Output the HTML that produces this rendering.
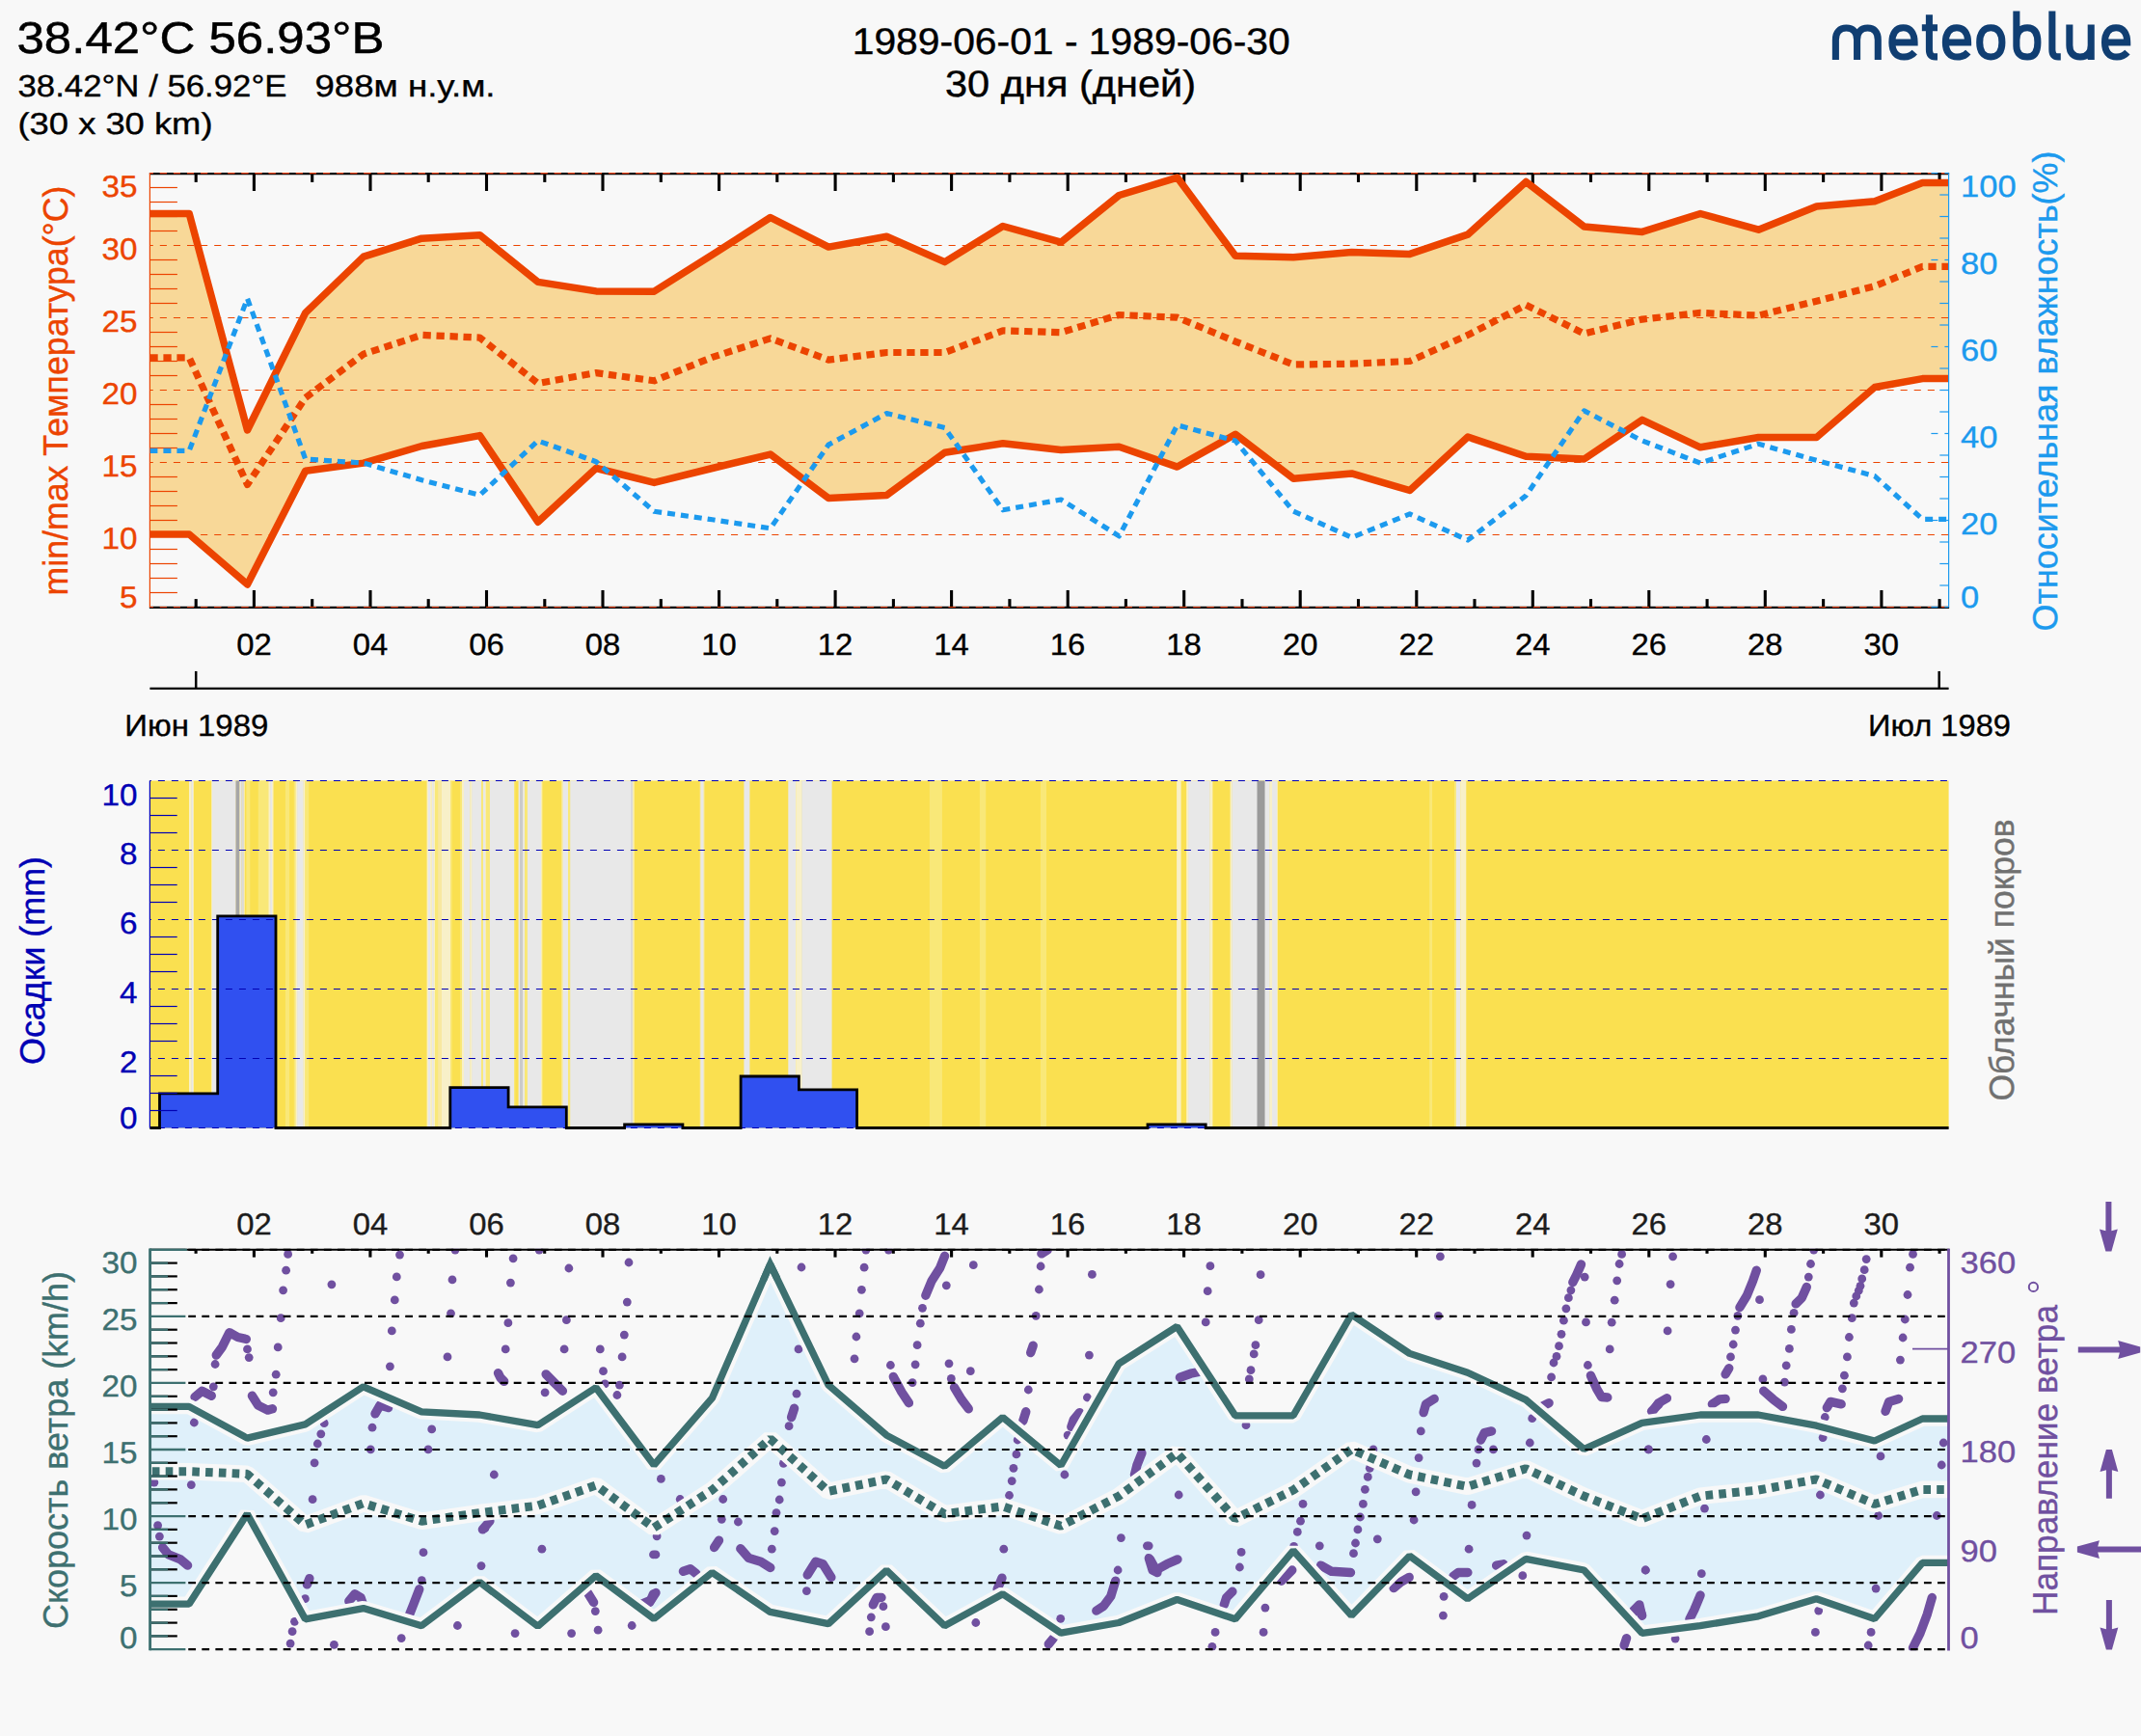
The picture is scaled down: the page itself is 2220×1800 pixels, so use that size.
<!DOCTYPE html>
<html><head><meta charset="utf-8"><title>meteoblue</title>
<style>html,body{margin:0;padding:0;background:#F8F8F8}svg{display:block}</style></head>
<body>
<svg width="2220" height="1800" viewBox="0 0 2220 1800" font-family="Liberation Sans, sans-serif" text-rendering="geometricPrecision">
<rect width="2220" height="1800" fill="#F8F8F8"/>
<text transform="translate(17.5 54.9) scale(1.1085 1)" font-size="46" fill="#000" stroke="#000" stroke-width="0.51" >38.42°C 56.93°В</text>
<text transform="translate(18.5 99.9) scale(1.0861 1)" font-size="32" fill="#000" stroke="#000" stroke-width="0.35" >38.42°N / 56.92°E</text>
<text transform="translate(326.5 99.9) scale(1.1443 1)" font-size="32" fill="#000" stroke="#000" stroke-width="0.35" >988м н.у.м.</text>
<text transform="translate(18.5 138.6) scale(1.1539 1)" font-size="31.5" fill="#000" stroke="#000" stroke-width="0.35" >(30 x 30 km)</text>
<text transform="translate(1110.7 55.5) scale(1.0605 1)" font-size="38.5" fill="#000" stroke="#000" stroke-width="0.42" text-anchor="middle" >1989-06-01 - 1989-06-30</text>
<text transform="translate(1110 100.2) scale(1.0785 1)" font-size="38.5" fill="#000" stroke="#000" stroke-width="0.42" text-anchor="middle" >30 дня (дней)</text>
<g transform="translate(1860 0) scale(0.16815)" fill="none" stroke="#103E72" stroke-width="42" stroke-linejoin="miter">
<path d="M258,368 V245 C258,197 284,173 324,173 C364,173 390,197 390,245 V368 M390,245 C390,197 416,173 455,173 C495,173 519,197 519,245 V368"/>
<path d="M606,262 H744 C744,205 720,171 675,171 C630,171 606,205 606,261 C606,320 632,351 680,351 C708,351 728,342 745,322"/>
<path d="M835,90 V305 C835,338 848,350 872,350 H886 M790,171 H886"/>
<path d="M936,262 H1074 C1074,205 1050,171 1005,171 C960,171 936,205 936,261 C936,320 962,351 1010,351 C1038,351 1058,342 1075,322"/>
<path d="M1215,171 C1170,171 1146,205 1146,261 C1146,317 1170,351 1215,351 C1260,351 1284,317 1284,261 C1284,205 1260,171 1215,171 Z"/>
<path d="M1373,68 V284 C1373,328 1400,351 1440,351 C1482,351 1504,322 1504,261 C1504,200 1482,171 1440,171 C1400,171 1373,197 1373,245"/>
<path d="M1593,68 V305 C1593,338 1606,350 1630,350 H1646"/>
<path d="M1700,152 V280 C1700,328 1725,351 1766,351 C1808,351 1833,328 1833,280 M1833,152 V368"/>
<path d="M1918,262 H2056 C2056,205 2032,171 1987,171 C1942,171 1918,205 1918,261 C1918,320 1944,351 1992,351 C2020,351 2040,342 2057,322"/>
</g>
<line x1="154.9" y1="180.1" x2="2021.1" y2="180.1" stroke="#000" stroke-width="2.1"/>
<line x1="203.2" y1="180.1" x2="203.2" y2="188.9" stroke="#000" stroke-width="3.1"/>
<line x1="263.4" y1="180.1" x2="263.4" y2="198" stroke="#000" stroke-width="3.1"/>
<line x1="323.7" y1="180.1" x2="323.7" y2="188.9" stroke="#000" stroke-width="3.1"/>
<line x1="384" y1="180.1" x2="384" y2="198" stroke="#000" stroke-width="3.1"/>
<line x1="444.2" y1="180.1" x2="444.2" y2="188.9" stroke="#000" stroke-width="3.1"/>
<line x1="504.5" y1="180.1" x2="504.5" y2="198" stroke="#000" stroke-width="3.1"/>
<line x1="564.8" y1="180.1" x2="564.8" y2="188.9" stroke="#000" stroke-width="3.1"/>
<line x1="625" y1="180.1" x2="625" y2="198" stroke="#000" stroke-width="3.1"/>
<line x1="685.3" y1="180.1" x2="685.3" y2="188.9" stroke="#000" stroke-width="3.1"/>
<line x1="745.6" y1="180.1" x2="745.6" y2="198" stroke="#000" stroke-width="3.1"/>
<line x1="805.8" y1="180.1" x2="805.8" y2="188.9" stroke="#000" stroke-width="3.1"/>
<line x1="866.1" y1="180.1" x2="866.1" y2="198" stroke="#000" stroke-width="3.1"/>
<line x1="926.4" y1="180.1" x2="926.4" y2="188.9" stroke="#000" stroke-width="3.1"/>
<line x1="986.6" y1="180.1" x2="986.6" y2="198" stroke="#000" stroke-width="3.1"/>
<line x1="1046.9" y1="180.1" x2="1046.9" y2="188.9" stroke="#000" stroke-width="3.1"/>
<line x1="1107.2" y1="180.1" x2="1107.2" y2="198" stroke="#000" stroke-width="3.1"/>
<line x1="1167.4" y1="180.1" x2="1167.4" y2="188.9" stroke="#000" stroke-width="3.1"/>
<line x1="1227.7" y1="180.1" x2="1227.7" y2="198" stroke="#000" stroke-width="3.1"/>
<line x1="1288" y1="180.1" x2="1288" y2="188.9" stroke="#000" stroke-width="3.1"/>
<line x1="1348.2" y1="180.1" x2="1348.2" y2="198" stroke="#000" stroke-width="3.1"/>
<line x1="1408.5" y1="180.1" x2="1408.5" y2="188.9" stroke="#000" stroke-width="3.1"/>
<line x1="1468.8" y1="180.1" x2="1468.8" y2="198" stroke="#000" stroke-width="3.1"/>
<line x1="1529" y1="180.1" x2="1529" y2="188.9" stroke="#000" stroke-width="3.1"/>
<line x1="1589.3" y1="180.1" x2="1589.3" y2="198" stroke="#000" stroke-width="3.1"/>
<line x1="1649.5" y1="180.1" x2="1649.5" y2="188.9" stroke="#000" stroke-width="3.1"/>
<line x1="1709.8" y1="180.1" x2="1709.8" y2="198" stroke="#000" stroke-width="3.1"/>
<line x1="1770.1" y1="180.1" x2="1770.1" y2="188.9" stroke="#000" stroke-width="3.1"/>
<line x1="1830.3" y1="180.1" x2="1830.3" y2="198" stroke="#000" stroke-width="3.1"/>
<line x1="1890.6" y1="180.1" x2="1890.6" y2="188.9" stroke="#000" stroke-width="3.1"/>
<line x1="1950.9" y1="180.1" x2="1950.9" y2="198" stroke="#000" stroke-width="3.1"/>
<line x1="2011.1" y1="180.1" x2="2011.1" y2="188.9" stroke="#000" stroke-width="3.1"/>
<line x1="154.9" y1="629.9" x2="2021.1" y2="629.9" stroke="#000" stroke-width="2.1"/>
<line x1="203.2" y1="629.9" x2="203.2" y2="621.1" stroke="#000" stroke-width="3.1"/>
<line x1="263.4" y1="629.9" x2="263.4" y2="612" stroke="#000" stroke-width="3.1"/>
<line x1="323.7" y1="629.9" x2="323.7" y2="621.1" stroke="#000" stroke-width="3.1"/>
<line x1="384" y1="629.9" x2="384" y2="612" stroke="#000" stroke-width="3.1"/>
<line x1="444.2" y1="629.9" x2="444.2" y2="621.1" stroke="#000" stroke-width="3.1"/>
<line x1="504.5" y1="629.9" x2="504.5" y2="612" stroke="#000" stroke-width="3.1"/>
<line x1="564.8" y1="629.9" x2="564.8" y2="621.1" stroke="#000" stroke-width="3.1"/>
<line x1="625" y1="629.9" x2="625" y2="612" stroke="#000" stroke-width="3.1"/>
<line x1="685.3" y1="629.9" x2="685.3" y2="621.1" stroke="#000" stroke-width="3.1"/>
<line x1="745.6" y1="629.9" x2="745.6" y2="612" stroke="#000" stroke-width="3.1"/>
<line x1="805.8" y1="629.9" x2="805.8" y2="621.1" stroke="#000" stroke-width="3.1"/>
<line x1="866.1" y1="629.9" x2="866.1" y2="612" stroke="#000" stroke-width="3.1"/>
<line x1="926.4" y1="629.9" x2="926.4" y2="621.1" stroke="#000" stroke-width="3.1"/>
<line x1="986.6" y1="629.9" x2="986.6" y2="612" stroke="#000" stroke-width="3.1"/>
<line x1="1046.9" y1="629.9" x2="1046.9" y2="621.1" stroke="#000" stroke-width="3.1"/>
<line x1="1107.2" y1="629.9" x2="1107.2" y2="612" stroke="#000" stroke-width="3.1"/>
<line x1="1167.4" y1="629.9" x2="1167.4" y2="621.1" stroke="#000" stroke-width="3.1"/>
<line x1="1227.7" y1="629.9" x2="1227.7" y2="612" stroke="#000" stroke-width="3.1"/>
<line x1="1288" y1="629.9" x2="1288" y2="621.1" stroke="#000" stroke-width="3.1"/>
<line x1="1348.2" y1="629.9" x2="1348.2" y2="612" stroke="#000" stroke-width="3.1"/>
<line x1="1408.5" y1="629.9" x2="1408.5" y2="621.1" stroke="#000" stroke-width="3.1"/>
<line x1="1468.8" y1="629.9" x2="1468.8" y2="612" stroke="#000" stroke-width="3.1"/>
<line x1="1529" y1="629.9" x2="1529" y2="621.1" stroke="#000" stroke-width="3.1"/>
<line x1="1589.3" y1="629.9" x2="1589.3" y2="612" stroke="#000" stroke-width="3.1"/>
<line x1="1649.5" y1="629.9" x2="1649.5" y2="621.1" stroke="#000" stroke-width="3.1"/>
<line x1="1709.8" y1="629.9" x2="1709.8" y2="612" stroke="#000" stroke-width="3.1"/>
<line x1="1770.1" y1="629.9" x2="1770.1" y2="621.1" stroke="#000" stroke-width="3.1"/>
<line x1="1830.3" y1="629.9" x2="1830.3" y2="612" stroke="#000" stroke-width="3.1"/>
<line x1="1890.6" y1="629.9" x2="1890.6" y2="621.1" stroke="#000" stroke-width="3.1"/>
<line x1="1950.9" y1="629.9" x2="1950.9" y2="612" stroke="#000" stroke-width="3.1"/>
<line x1="2011.1" y1="629.9" x2="2011.1" y2="621.1" stroke="#000" stroke-width="3.1"/>
<clipPath id="c1"><rect x="155.4" y="179.5" width="1865.1999999999998" height="450.0"/></clipPath>
<g clip-path="url(#c1)">
<polygon points="155.4,221.5 196.2,221.5 256.5,446 316.7,324.4 377,266.1 437.3,247.2 497.5,243.7 557.8,292.4 618.1,301.9 678.3,302.2 738.6,264.2 798.8,225.5 859.1,256.1 919.4,245.3 979.6,271.6 1039.9,234.5 1100.2,251.2 1160.4,202.5 1220.7,184.1 1281,265.3 1341.2,266.7 1401.5,261.5 1461.8,263.4 1522,243.1 1582.3,188.5 1642.6,235 1702.8,240.4 1763.1,221.5 1823.4,238.2 1883.6,213.9 1943.9,208.7 1993.4,189.5 2020.6,189.5 2020.6,392.6 1993.4,392.6 1943.9,401.5 1883.6,453.5 1823.4,453.5 1763.1,463.8 1702.8,435.4 1642.6,476 1582.3,473.3 1522,453 1461.8,508.5 1401.5,490.9 1341.2,496.3 1281,450.3 1220.7,484.1 1160.4,463.3 1100.2,466.5 1039.9,459.8 979.6,469.2 919.4,513.4 859.1,516.6 798.8,471.1 738.6,485.5 678.3,500.4 618.1,485.5 557.8,541.2 497.5,451.6 437.3,462.5 377,480.1 316.7,488.2 256.5,606 196.2,554 155.4,554" fill="#F8D898"/>
</g>
<line x1="155.4" y1="629.5" x2="2020.6" y2="629.5" stroke="#EC4400" stroke-width="1.1" stroke-dasharray="7.1 7" stroke-dashoffset="3.7"/>
<line x1="155.4" y1="554.5" x2="2020.6" y2="554.5" stroke="#EC4400" stroke-width="1.1" stroke-dasharray="7.1 7" stroke-dashoffset="3.7"/>
<line x1="155.4" y1="479.5" x2="2020.6" y2="479.5" stroke="#EC4400" stroke-width="1.1" stroke-dasharray="7.1 7" stroke-dashoffset="3.7"/>
<line x1="155.4" y1="404.5" x2="2020.6" y2="404.5" stroke="#EC4400" stroke-width="1.1" stroke-dasharray="7.1 7" stroke-dashoffset="3.7"/>
<line x1="155.4" y1="329.5" x2="2020.6" y2="329.5" stroke="#EC4400" stroke-width="1.1" stroke-dasharray="7.1 7" stroke-dashoffset="3.7"/>
<line x1="155.4" y1="254.5" x2="2020.6" y2="254.5" stroke="#EC4400" stroke-width="1.1" stroke-dasharray="7.1 7" stroke-dashoffset="3.7"/>
<line x1="155.4" y1="179.5" x2="2020.6" y2="179.5" stroke="#EC4400" stroke-width="1.1" stroke-dasharray="7.1 7" stroke-dashoffset="3.7"/>
<line x1="155.4" y1="179.5" x2="155.4" y2="629.5" stroke="#EC4400" stroke-width="1.2"/>
<line x1="155.4" y1="614.5" x2="183.9" y2="614.5" stroke="#EC4400" stroke-width="1.2"/>
<line x1="155.4" y1="599.5" x2="183.9" y2="599.5" stroke="#EC4400" stroke-width="1.2"/>
<line x1="155.4" y1="584.5" x2="183.9" y2="584.5" stroke="#EC4400" stroke-width="1.2"/>
<line x1="155.4" y1="569.5" x2="183.9" y2="569.5" stroke="#EC4400" stroke-width="1.2"/>
<line x1="155.4" y1="539.5" x2="183.9" y2="539.5" stroke="#EC4400" stroke-width="1.2"/>
<line x1="155.4" y1="524.5" x2="183.9" y2="524.5" stroke="#EC4400" stroke-width="1.2"/>
<line x1="155.4" y1="509.5" x2="183.9" y2="509.5" stroke="#EC4400" stroke-width="1.2"/>
<line x1="155.4" y1="494.5" x2="183.9" y2="494.5" stroke="#EC4400" stroke-width="1.2"/>
<line x1="155.4" y1="464.5" x2="183.9" y2="464.5" stroke="#EC4400" stroke-width="1.2"/>
<line x1="155.4" y1="449.5" x2="183.9" y2="449.5" stroke="#EC4400" stroke-width="1.2"/>
<line x1="155.4" y1="434.5" x2="183.9" y2="434.5" stroke="#EC4400" stroke-width="1.2"/>
<line x1="155.4" y1="419.5" x2="183.9" y2="419.5" stroke="#EC4400" stroke-width="1.2"/>
<line x1="155.4" y1="389.5" x2="183.9" y2="389.5" stroke="#EC4400" stroke-width="1.2"/>
<line x1="155.4" y1="374.5" x2="183.9" y2="374.5" stroke="#EC4400" stroke-width="1.2"/>
<line x1="155.4" y1="359.5" x2="183.9" y2="359.5" stroke="#EC4400" stroke-width="1.2"/>
<line x1="155.4" y1="344.5" x2="183.9" y2="344.5" stroke="#EC4400" stroke-width="1.2"/>
<line x1="155.4" y1="314.5" x2="183.9" y2="314.5" stroke="#EC4400" stroke-width="1.2"/>
<line x1="155.4" y1="299.5" x2="183.9" y2="299.5" stroke="#EC4400" stroke-width="1.2"/>
<line x1="155.4" y1="284.5" x2="183.9" y2="284.5" stroke="#EC4400" stroke-width="1.2"/>
<line x1="155.4" y1="269.5" x2="183.9" y2="269.5" stroke="#EC4400" stroke-width="1.2"/>
<line x1="155.4" y1="239.5" x2="183.9" y2="239.5" stroke="#EC4400" stroke-width="1.2"/>
<line x1="155.4" y1="224.5" x2="183.9" y2="224.5" stroke="#EC4400" stroke-width="1.2"/>
<line x1="155.4" y1="209.5" x2="183.9" y2="209.5" stroke="#EC4400" stroke-width="1.2"/>
<line x1="155.4" y1="194.5" x2="183.9" y2="194.5" stroke="#EC4400" stroke-width="1.2"/>
<g clip-path="url(#c1)" fill="none" stroke-linejoin="round">
<polyline points="155.4,221.5 196.2,221.5 256.5,446 316.7,324.4 377,266.1 437.3,247.2 497.5,243.7 557.8,292.4 618.1,301.9 678.3,302.2 738.6,264.2 798.8,225.5 859.1,256.1 919.4,245.3 979.6,271.6 1039.9,234.5 1100.2,251.2 1160.4,202.5 1220.7,184.1 1281,265.3 1341.2,266.7 1401.5,261.5 1461.8,263.4 1522,243.1 1582.3,188.5 1642.6,235 1702.8,240.4 1763.1,221.5 1823.4,238.2 1883.6,213.9 1943.9,208.7 1993.4,189.5 2020.6,189.5" stroke="#EC4400" stroke-width="7.5"/>
<polyline points="155.4,554 196.2,554 256.5,606 316.7,488.2 377,480.1 437.3,462.5 497.5,451.6 557.8,541.2 618.1,485.5 678.3,500.4 738.6,485.5 798.8,471.1 859.1,516.6 919.4,513.4 979.6,469.2 1039.9,459.8 1100.2,466.5 1160.4,463.3 1220.7,484.1 1281,450.3 1341.2,496.3 1401.5,490.9 1461.8,508.5 1522,453 1582.3,473.3 1642.6,476 1702.8,435.4 1763.1,463.8 1823.4,453.5 1883.6,453.5 1943.9,401.5 1993.4,392.6 2020.6,392.6" stroke="#EC4400" stroke-width="7.5"/>
<polyline points="155.4,370.9 196.2,370.9 256.5,502.5 316.7,412.4 377,367.1 437.3,347.4 497.5,350.1 557.8,397.5 618.1,386.6 678.3,394.8 738.6,370.4 798.8,350.9 859.1,373.1 919.4,365.5 979.6,365.5 1039.9,342.8 1100.2,344.7 1160.4,326.5 1220.7,329.2 1281,354.1 1341.2,378 1401.5,377.2 1461.8,374.5 1522,347.4 1582.3,316.2 1642.6,346 1702.8,331.1 1763.1,324.4 1823.4,327.1 1883.6,312.2 1943.9,296.7 1993.4,276.4 2020.6,276.4" stroke="#EC4400" stroke-width="7.2" stroke-dasharray="8.3 5.7"/>
<polyline points="155.4,467.3 196.2,467.3 256.5,309.5 316.7,476 377,480.1 437.3,497.7 497.5,513.4 557.8,457 618.1,478.7 678.3,530.2 738.6,538.8 798.8,547.8 859.1,461.1 919.4,428.6 979.6,443.5 1039.9,528.8 1100.2,518 1160.4,555.9 1220.7,440.8 1281,457.1 1341.2,530.2 1401.5,557.3 1461.8,532.9 1522,560 1582.3,513.9 1642.6,425.9 1702.8,457 1763.1,480.1 1823.4,460.3 1883.6,477.4 1943.9,493.6 1993.4,538.3 2020.6,538.3" stroke="#1C9AEE" stroke-width="5.2" stroke-dasharray="8 6"/>
</g>
<line x1="155.4" y1="179.6" x2="2020.6" y2="179.6" stroke="#EC4400" stroke-width="1.1" stroke-dasharray="7.1 7" stroke-dashoffset="3.7"/>
<line x1="155.4" y1="629.5" x2="2020.6" y2="629.5" stroke="#EC4400" stroke-width="1.1" stroke-dasharray="7.1 7" stroke-dashoffset="3.7"/>
<line x1="2020.6" y1="179.5" x2="2020.6" y2="629.5" stroke="#1C9AEE" stroke-width="1.2"/>
<line x1="2002.3999999999999" y1="629.5" x2="2009.3999999999999" y2="629.5" stroke="#1C9AEE" stroke-width="1.2"/>
<line x1="2016.3999999999999" y1="629.5" x2="2020.6" y2="629.5" stroke="#1C9AEE" stroke-width="1.2"/>
<line x1="2011.3" y1="607" x2="2020.6" y2="607" stroke="#1C9AEE" stroke-width="1.2"/>
<line x1="2011.3" y1="584.5" x2="2020.6" y2="584.5" stroke="#1C9AEE" stroke-width="1.2"/>
<line x1="2011.3" y1="562" x2="2020.6" y2="562" stroke="#1C9AEE" stroke-width="1.2"/>
<line x1="2002.3999999999999" y1="539.5" x2="2009.3999999999999" y2="539.5" stroke="#1C9AEE" stroke-width="1.2"/>
<line x1="2016.3999999999999" y1="539.5" x2="2020.6" y2="539.5" stroke="#1C9AEE" stroke-width="1.2"/>
<line x1="2011.3" y1="517" x2="2020.6" y2="517" stroke="#1C9AEE" stroke-width="1.2"/>
<line x1="2011.3" y1="494.5" x2="2020.6" y2="494.5" stroke="#1C9AEE" stroke-width="1.2"/>
<line x1="2011.3" y1="472" x2="2020.6" y2="472" stroke="#1C9AEE" stroke-width="1.2"/>
<line x1="2002.3999999999999" y1="449.5" x2="2009.3999999999999" y2="449.5" stroke="#1C9AEE" stroke-width="1.2"/>
<line x1="2016.3999999999999" y1="449.5" x2="2020.6" y2="449.5" stroke="#1C9AEE" stroke-width="1.2"/>
<line x1="2011.3" y1="427" x2="2020.6" y2="427" stroke="#1C9AEE" stroke-width="1.2"/>
<line x1="2011.3" y1="404.5" x2="2020.6" y2="404.5" stroke="#1C9AEE" stroke-width="1.2"/>
<line x1="2011.3" y1="382" x2="2020.6" y2="382" stroke="#1C9AEE" stroke-width="1.2"/>
<line x1="2002.3999999999999" y1="359.5" x2="2009.3999999999999" y2="359.5" stroke="#1C9AEE" stroke-width="1.2"/>
<line x1="2016.3999999999999" y1="359.5" x2="2020.6" y2="359.5" stroke="#1C9AEE" stroke-width="1.2"/>
<line x1="2011.3" y1="337" x2="2020.6" y2="337" stroke="#1C9AEE" stroke-width="1.2"/>
<line x1="2011.3" y1="314.5" x2="2020.6" y2="314.5" stroke="#1C9AEE" stroke-width="1.2"/>
<line x1="2011.3" y1="292" x2="2020.6" y2="292" stroke="#1C9AEE" stroke-width="1.2"/>
<line x1="2002.3999999999999" y1="269.5" x2="2009.3999999999999" y2="269.5" stroke="#1C9AEE" stroke-width="1.2"/>
<line x1="2016.3999999999999" y1="269.5" x2="2020.6" y2="269.5" stroke="#1C9AEE" stroke-width="1.2"/>
<line x1="2011.3" y1="247" x2="2020.6" y2="247" stroke="#1C9AEE" stroke-width="1.2"/>
<line x1="2011.3" y1="224.5" x2="2020.6" y2="224.5" stroke="#1C9AEE" stroke-width="1.2"/>
<line x1="2011.3" y1="202" x2="2020.6" y2="202" stroke="#1C9AEE" stroke-width="1.2"/>
<line x1="2002.3999999999999" y1="179.5" x2="2009.3999999999999" y2="179.5" stroke="#1C9AEE" stroke-width="1.2"/>
<line x1="2016.3999999999999" y1="179.5" x2="2020.6" y2="179.5" stroke="#1C9AEE" stroke-width="1.2"/>
<text transform="translate(263.4 678.9) scale(1.0415 1)" font-size="31.5" fill="#000" stroke="#000" stroke-width="0.35" text-anchor="middle" >02</text>
<text transform="translate(383.9 678.9) scale(1.0415 1)" font-size="31.5" fill="#000" stroke="#000" stroke-width="0.35" text-anchor="middle" >04</text>
<text transform="translate(504.5 678.9) scale(1.0415 1)" font-size="31.5" fill="#000" stroke="#000" stroke-width="0.35" text-anchor="middle" >06</text>
<text transform="translate(625 678.9) scale(1.0415 1)" font-size="31.5" fill="#000" stroke="#000" stroke-width="0.35" text-anchor="middle" >08</text>
<text transform="translate(745.5 678.9) scale(1.0415 1)" font-size="31.5" fill="#000" stroke="#000" stroke-width="0.35" text-anchor="middle" >10</text>
<text transform="translate(866 678.9) scale(1.0415 1)" font-size="31.5" fill="#000" stroke="#000" stroke-width="0.35" text-anchor="middle" >12</text>
<text transform="translate(986.6 678.9) scale(1.0415 1)" font-size="31.5" fill="#000" stroke="#000" stroke-width="0.35" text-anchor="middle" >14</text>
<text transform="translate(1107.1 678.9) scale(1.0415 1)" font-size="31.5" fill="#000" stroke="#000" stroke-width="0.35" text-anchor="middle" >16</text>
<text transform="translate(1227.6 678.9) scale(1.0415 1)" font-size="31.5" fill="#000" stroke="#000" stroke-width="0.35" text-anchor="middle" >18</text>
<text transform="translate(1348.2 678.9) scale(1.0415 1)" font-size="31.5" fill="#000" stroke="#000" stroke-width="0.35" text-anchor="middle" >20</text>
<text transform="translate(1468.7 678.9) scale(1.0415 1)" font-size="31.5" fill="#000" stroke="#000" stroke-width="0.35" text-anchor="middle" >22</text>
<text transform="translate(1589.2 678.9) scale(1.0415 1)" font-size="31.5" fill="#000" stroke="#000" stroke-width="0.35" text-anchor="middle" >24</text>
<text transform="translate(1709.8 678.9) scale(1.0415 1)" font-size="31.5" fill="#000" stroke="#000" stroke-width="0.35" text-anchor="middle" >26</text>
<text transform="translate(1830.3 678.9) scale(1.0415 1)" font-size="31.5" fill="#000" stroke="#000" stroke-width="0.35" text-anchor="middle" >28</text>
<text transform="translate(1950.8 678.9) scale(1.0415 1)" font-size="31.5" fill="#000" stroke="#000" stroke-width="0.35" text-anchor="middle" >30</text>
<line x1="155.4" y1="713.8" x2="2020.6" y2="713.8" stroke="#000" stroke-width="2.2"/>
<line x1="203.2" y1="696" x2="203.2" y2="713.8" stroke="#000" stroke-width="2.5"/>
<line x1="2010.7" y1="696" x2="2010.7" y2="713.8" stroke="#000" stroke-width="2.5"/>
<text transform="translate(203.8 762.9) scale(1.0456 1)" font-size="31.5" fill="#000" stroke="#000" stroke-width="0.35" text-anchor="middle" >Июн 1989</text>
<text transform="translate(2011 762.9) scale(1.0366 1)" font-size="31.5" fill="#000" stroke="#000" stroke-width="0.35" text-anchor="middle" >Июл 1989</text>
<text transform="translate(142.5 629.5) scale(1.0553 1)" font-size="31.5" fill="#EC4400" stroke="#EC4400" stroke-width="0.35" text-anchor="end" >5</text>
<text transform="translate(142.5 568.9) scale(1.0557 1)" font-size="31.5" fill="#EC4400" stroke="#EC4400" stroke-width="0.35" text-anchor="end" >10</text>
<text transform="translate(142.5 493.9) scale(1.0557 1)" font-size="31.5" fill="#EC4400" stroke="#EC4400" stroke-width="0.35" text-anchor="end" >15</text>
<text transform="translate(142.5 418.9) scale(1.0557 1)" font-size="31.5" fill="#EC4400" stroke="#EC4400" stroke-width="0.35" text-anchor="end" >20</text>
<text transform="translate(142.5 343.9) scale(1.0557 1)" font-size="31.5" fill="#EC4400" stroke="#EC4400" stroke-width="0.35" text-anchor="end" >25</text>
<text transform="translate(142.5 268.9) scale(1.0557 1)" font-size="31.5" fill="#EC4400" stroke="#EC4400" stroke-width="0.35" text-anchor="end" >30</text>
<text transform="translate(142.5 204.2) scale(1.0557 1)" font-size="31.5" fill="#EC4400" stroke="#EC4400" stroke-width="0.35" text-anchor="end" >35</text>
<text transform="translate(2033 629.5) scale(1.0952 1)" font-size="31.5" fill="#1C9AEE" stroke="#1C9AEE" stroke-width="0.35" >0</text>
<text transform="translate(2033 553.8) scale(1.0957 1)" font-size="31.5" fill="#1C9AEE" stroke="#1C9AEE" stroke-width="0.35" >20</text>
<text transform="translate(2033 463.8) scale(1.0957 1)" font-size="31.5" fill="#1C9AEE" stroke="#1C9AEE" stroke-width="0.35" >40</text>
<text transform="translate(2033 373.8) scale(1.0957 1)" font-size="31.5" fill="#1C9AEE" stroke="#1C9AEE" stroke-width="0.35" >60</text>
<text transform="translate(2033 283.8) scale(1.0957 1)" font-size="31.5" fill="#1C9AEE" stroke="#1C9AEE" stroke-width="0.35" >80</text>
<text transform="translate(2033 204.4) scale(1.0958 1)" font-size="31.5" fill="#1C9AEE" stroke="#1C9AEE" stroke-width="0.35" >100</text>
<text transform="translate(69.5 617.5) rotate(-90) scale(0.9920 1)" font-size="36" fill="#EC4400" stroke="#EC4400" stroke-width="0.40" >min/max Температура(°C)</text>
<text transform="translate(2133 654.5) rotate(-90) scale(0.9977 1)" font-size="36" fill="#1C9AEE" stroke="#1C9AEE" stroke-width="0.40" >Относительная влажность(%)</text>
<rect x="155.4" y="809.5" width="1865.1999999999998" height="360.0" fill="#FAE050"/>
<rect x="196" y="809.5" width="2.2" height="360.0" fill="#F8F0C8"/>
<rect x="198.2" y="809.5" width="2" height="360.0" fill="#E8E8E8"/>
<rect x="200.2" y="809.5" width="0.8" height="360.0" fill="#F8F0C8"/>
<rect x="219.2" y="809.5" width="0.8" height="360.0" fill="#F8F0C8"/>
<rect x="220" y="809.5" width="24.2" height="360.0" fill="#E8E8E8"/>
<rect x="244.2" y="809.5" width="0.8" height="360.0" fill="#C4C4C4"/>
<rect x="245" y="809.5" width="3" height="360.0" fill="#A6A6A6"/>
<rect x="248" y="809.5" width="0.7" height="360.0" fill="#C8C8C8"/>
<rect x="248.7" y="809.5" width="1.6" height="360.0" fill="#E8E8E8"/>
<rect x="250.3" y="809.5" width="2.6" height="360.0" fill="#DADADA"/>
<rect x="252.9" y="809.5" width="0.8" height="360.0" fill="#F8F0C8"/>
<rect x="255.4" y="809.5" width="3.9" height="360.0" fill="#F9E878"/>
<rect x="267.8" y="809.5" width="10.6" height="360.0" fill="#F9E878"/>
<rect x="278.4" y="809.5" width="1.7" height="360.0" fill="#F8F0C8"/>
<rect x="280.1" y="809.5" width="1.9" height="360.0" fill="#E8E8E8"/>
<rect x="282" y="809.5" width="1.5" height="360.0" fill="#F8F0C8"/>
<rect x="295.9" y="809.5" width="4.2" height="360.0" fill="#F9E878"/>
<rect x="304.8" y="809.5" width="1.7" height="360.0" fill="#F9E878"/>
<rect x="306.5" y="809.5" width="1.6" height="360.0" fill="#F8F0C8"/>
<rect x="308.1" y="809.5" width="6.7" height="360.0" fill="#E8E8E8"/>
<rect x="314.8" y="809.5" width="1.7" height="360.0" fill="#F8F0C8"/>
<rect x="316.5" y="809.5" width="3.7" height="360.0" fill="#F9E878"/>
<rect x="442.6" y="809.5" width="1.4" height="360.0" fill="#F8F0C8"/>
<rect x="444" y="809.5" width="2" height="360.0" fill="#E8E8E8"/>
<rect x="446" y="809.5" width="1.9" height="360.0" fill="#F8F0C8"/>
<rect x="447.9" y="809.5" width="2" height="360.0" fill="#E8E8E8"/>
<rect x="449.9" y="809.5" width="1.1" height="360.0" fill="#F8F0C8"/>
<rect x="451" y="809.5" width="3.1" height="360.0" fill="#F9E878"/>
<rect x="454.1" y="809.5" width="3.9" height="360.0" fill="#F8E8A0"/>
<rect x="458" y="809.5" width="9.3" height="360.0" fill="#F8F0C8"/>
<rect x="467.3" y="809.5" width="1.4" height="360.0" fill="#F9E878"/>
<rect x="477.1" y="809.5" width="1.9" height="360.0" fill="#F9E878"/>
<rect x="479" y="809.5" width="2" height="360.0" fill="#F8F0C8"/>
<rect x="481" y="809.5" width="6.7" height="360.0" fill="#E8E8E8"/>
<rect x="487.7" y="809.5" width="1.4" height="360.0" fill="#F8F0C8"/>
<rect x="489.1" y="809.5" width="9.9" height="360.0" fill="#E8E8E8"/>
<rect x="499" y="809.5" width="1.9" height="360.0" fill="#F9E878"/>
<rect x="500.9" y="809.5" width="2.3" height="360.0" fill="#E8E8E8"/>
<rect x="503.2" y="809.5" width="0.8" height="360.0" fill="#F8F0C8"/>
<rect x="504" y="809.5" width="3.9" height="360.0" fill="#F9E878"/>
<rect x="507.9" y="809.5" width="25.2" height="360.0" fill="#E8E8E8"/>
<rect x="533.1" y="809.5" width="1.2" height="360.0" fill="#F9E878"/>
<rect x="537.6" y="809.5" width="1.4" height="360.0" fill="#E8E8E8"/>
<rect x="539" y="809.5" width="3.1" height="360.0" fill="#CACACA"/>
<rect x="542.1" y="809.5" width="2" height="360.0" fill="#E8E8E8"/>
<rect x="544.1" y="809.5" width="2.8" height="360.0" fill="#F9E878"/>
<rect x="546.9" y="809.5" width="14.3" height="360.0" fill="#E8E8E8"/>
<rect x="561.2" y="809.5" width="1.1" height="360.0" fill="#F8F0C8"/>
<rect x="582.5" y="809.5" width="1.1" height="360.0" fill="#F8F0C8"/>
<rect x="583.6" y="809.5" width="5.4" height="360.0" fill="#E8E8E8"/>
<rect x="589" y="809.5" width="2.2" height="360.0" fill="#F9E878"/>
<rect x="591.2" y="809.5" width="62.8" height="360.0" fill="#E8E8E8"/>
<rect x="654" y="809.5" width="2.2" height="360.0" fill="#DADADA"/>
<rect x="656.2" y="809.5" width="1.4" height="360.0" fill="#F8F0C8"/>
<rect x="725.8" y="809.5" width="0.6" height="360.0" fill="#F8F0C8"/>
<rect x="726.4" y="809.5" width="3.3" height="360.0" fill="#E8E8E8"/>
<rect x="729.7" y="809.5" width="0.6" height="360.0" fill="#F8F0C8"/>
<rect x="771.4" y="809.5" width="6" height="360.0" fill="#E8E8E8"/>
<rect x="817.3" y="809.5" width="7.9" height="360.0" fill="#E8E8E8"/>
<rect x="825.2" y="809.5" width="6" height="360.0" fill="#F8F0C8"/>
<rect x="831.2" y="809.5" width="31.4" height="360.0" fill="#E8E8E8"/>
<rect x="963.9" y="809.5" width="13" height="360.0" fill="#F9E878"/>
<rect x="1015.9" y="809.5" width="6.3" height="360.0" fill="#F9E878"/>
<rect x="1078.9" y="809.5" width="6.1" height="360.0" fill="#F9E878"/>
<rect x="1220.1" y="809.5" width="4.5" height="360.0" fill="#F8F0C8"/>
<rect x="1230.2" y="809.5" width="1.9" height="360.0" fill="#F8F0C8"/>
<rect x="1232.1" y="809.5" width="22.7" height="360.0" fill="#E8E8E8"/>
<rect x="1254.8" y="809.5" width="2.6" height="360.0" fill="#F8F0C8"/>
<rect x="1275.6" y="809.5" width="1.7" height="360.0" fill="#F8F0C8"/>
<rect x="1277.3" y="809.5" width="25.7" height="360.0" fill="#E8E8E8"/>
<rect x="1303" y="809.5" width="1" height="360.0" fill="#C0C0C0"/>
<rect x="1304" y="809.5" width="7" height="360.0" fill="#9A9A9A"/>
<rect x="1311" y="809.5" width="1" height="360.0" fill="#C0C0C0"/>
<rect x="1312" y="809.5" width="4.8" height="360.0" fill="#E8E8E8"/>
<rect x="1316.8" y="809.5" width="2.2" height="360.0" fill="#F8F0C8"/>
<rect x="1319" y="809.5" width="5.1" height="360.0" fill="#E8E8E8"/>
<rect x="1324.1" y="809.5" width="0.8" height="360.0" fill="#F8F0C8"/>
<rect x="1482.2" y="809.5" width="2.9" height="360.0" fill="#F9E878"/>
<rect x="1508" y="809.5" width="1.8" height="360.0" fill="#F9E878"/>
<rect x="1509.8" y="809.5" width="4.4" height="360.0" fill="#E8E8E8"/>
<rect x="1514.2" y="809.5" width="6.1" height="360.0" fill="#F8F0C8"/>
<polygon points="155.4,1169.5 165.5,1169.5 165.5,1133.9 225.7,1133.9 225.7,949.9 286,949.9 286,1169.5 346.3,1169.5 346.3,1169.5 406.5,1169.5 406.5,1169.5 466.8,1169.5 466.8,1127.7 527.1,1127.7 527.1,1147.9 587.3,1147.9 587.3,1169.5 647.6,1169.5 647.6,1165.9 707.9,1165.9 707.9,1169.5 768.1,1169.5 768.1,1116 828.4,1116 828.4,1129.9 888.6,1129.9 888.6,1169.5 948.9,1169.5 948.9,1169.5 1009.2,1169.5 1009.2,1169.5 1069.4,1169.5 1069.4,1169.5 1129.7,1169.5 1129.7,1169.5 1190,1169.5 1190,1165.9 1250.2,1165.9 1250.2,1169.5 1310.5,1169.5 1310.5,1169.5 1370.8,1169.5 1370.8,1169.5 1431,1169.5 1431,1169.5 1491.3,1169.5 1491.3,1169.5 1551.6,1169.5 1551.6,1169.5 1611.8,1169.5 1611.8,1169.5 1672.1,1169.5 1672.1,1169.5 1732.4,1169.5 1732.4,1169.5 1792.6,1169.5 1792.6,1169.5 1852.9,1169.5 1852.9,1169.5 1913.2,1169.5 1913.2,1169.5 1973.4,1169.5 1973.4,1169.5 2020.6,1169.5 2020.6,1169.5" fill="#3050F0"/>
<line x1="155.4" y1="1169.5" x2="2020.6" y2="1169.5" stroke="#0000B4" stroke-width="1.15" stroke-dasharray="7 7" stroke-dashoffset="5.5"/>
<line x1="155.4" y1="1097.5" x2="2020.6" y2="1097.5" stroke="#0000B4" stroke-width="1.15" stroke-dasharray="7 7" stroke-dashoffset="5.5"/>
<line x1="155.4" y1="1025.5" x2="2020.6" y2="1025.5" stroke="#0000B4" stroke-width="1.15" stroke-dasharray="7 7" stroke-dashoffset="5.5"/>
<line x1="155.4" y1="953.5" x2="2020.6" y2="953.5" stroke="#0000B4" stroke-width="1.15" stroke-dasharray="7 7" stroke-dashoffset="5.5"/>
<line x1="155.4" y1="881.5" x2="2020.6" y2="881.5" stroke="#0000B4" stroke-width="1.15" stroke-dasharray="7 7" stroke-dashoffset="5.5"/>
<line x1="155.4" y1="809.5" x2="2020.6" y2="809.5" stroke="#0000B4" stroke-width="1.15" stroke-dasharray="7 7" stroke-dashoffset="5.5"/>
<polyline points="155.4,1169.5 165.5,1169.5 165.5,1133.9 225.7,1133.9 225.7,949.9 286,949.9 286,1169.5 346.3,1169.5 346.3,1169.5 406.5,1169.5 406.5,1169.5 466.8,1169.5 466.8,1127.7 527.1,1127.7 527.1,1147.9 587.3,1147.9 587.3,1169.5 647.6,1169.5 647.6,1165.9 707.9,1165.9 707.9,1169.5 768.1,1169.5 768.1,1116 828.4,1116 828.4,1129.9 888.6,1129.9 888.6,1169.5 948.9,1169.5 948.9,1169.5 1009.2,1169.5 1009.2,1169.5 1069.4,1169.5 1069.4,1169.5 1129.7,1169.5 1129.7,1169.5 1190,1169.5 1190,1165.9 1250.2,1165.9 1250.2,1169.5 1310.5,1169.5 1310.5,1169.5 1370.8,1169.5 1370.8,1169.5 1431,1169.5 1431,1169.5 1491.3,1169.5 1491.3,1169.5 1551.6,1169.5 1551.6,1169.5 1611.8,1169.5 1611.8,1169.5 1672.1,1169.5 1672.1,1169.5 1732.4,1169.5 1732.4,1169.5 1792.6,1169.5 1792.6,1169.5 1852.9,1169.5 1852.9,1169.5 1913.2,1169.5 1913.2,1169.5 1973.4,1169.5 1973.4,1169.5 2020.6,1169.5 2020.6,1169.5" fill="none" stroke="#000" stroke-width="2.8" stroke-linejoin="miter"/>
<line x1="155.4" y1="809.5" x2="155.4" y2="1169.5" stroke="#0000B4" stroke-width="1.2"/>
<line x1="155.4" y1="1151.5" x2="183.70000000000002" y2="1151.5" stroke="#0000B4" stroke-width="1.2"/>
<line x1="155.4" y1="1133.5" x2="183.70000000000002" y2="1133.5" stroke="#0000B4" stroke-width="1.2"/>
<line x1="155.4" y1="1115.5" x2="183.70000000000002" y2="1115.5" stroke="#0000B4" stroke-width="1.2"/>
<line x1="155.4" y1="1079.5" x2="183.70000000000002" y2="1079.5" stroke="#0000B4" stroke-width="1.2"/>
<line x1="155.4" y1="1061.5" x2="183.70000000000002" y2="1061.5" stroke="#0000B4" stroke-width="1.2"/>
<line x1="155.4" y1="1043.5" x2="183.70000000000002" y2="1043.5" stroke="#0000B4" stroke-width="1.2"/>
<line x1="155.4" y1="1007.5" x2="183.70000000000002" y2="1007.5" stroke="#0000B4" stroke-width="1.2"/>
<line x1="155.4" y1="989.5" x2="183.70000000000002" y2="989.5" stroke="#0000B4" stroke-width="1.2"/>
<line x1="155.4" y1="971.5" x2="183.70000000000002" y2="971.5" stroke="#0000B4" stroke-width="1.2"/>
<line x1="155.4" y1="935.5" x2="183.70000000000002" y2="935.5" stroke="#0000B4" stroke-width="1.2"/>
<line x1="155.4" y1="917.5" x2="183.70000000000002" y2="917.5" stroke="#0000B4" stroke-width="1.2"/>
<line x1="155.4" y1="899.5" x2="183.70000000000002" y2="899.5" stroke="#0000B4" stroke-width="1.2"/>
<line x1="155.4" y1="863.5" x2="183.70000000000002" y2="863.5" stroke="#0000B4" stroke-width="1.2"/>
<line x1="155.4" y1="845.5" x2="183.70000000000002" y2="845.5" stroke="#0000B4" stroke-width="1.2"/>
<line x1="155.4" y1="827.5" x2="183.70000000000002" y2="827.5" stroke="#0000B4" stroke-width="1.2"/>
<text transform="translate(142.5 1169.9) scale(1.0553 1)" font-size="31.5" fill="#0000B4" stroke="#0000B4" stroke-width="0.35" text-anchor="end" >0</text>
<text transform="translate(142.5 1111.7) scale(1.0553 1)" font-size="31.5" fill="#0000B4" stroke="#0000B4" stroke-width="0.35" text-anchor="end" >2</text>
<text transform="translate(142.5 1039.7) scale(1.0553 1)" font-size="31.5" fill="#0000B4" stroke="#0000B4" stroke-width="0.35" text-anchor="end" >4</text>
<text transform="translate(142.5 967.7) scale(1.0553 1)" font-size="31.5" fill="#0000B4" stroke="#0000B4" stroke-width="0.35" text-anchor="end" >6</text>
<text transform="translate(142.5 895.7) scale(1.0553 1)" font-size="31.5" fill="#0000B4" stroke="#0000B4" stroke-width="0.35" text-anchor="end" >8</text>
<text transform="translate(142.5 834.9) scale(1.0557 1)" font-size="31.5" fill="#0000B4" stroke="#0000B4" stroke-width="0.35" text-anchor="end" >10</text>
<text transform="translate(45.8 1104) rotate(-90) scale(0.9961 1)" font-size="36" fill="#0000B4" stroke="#0000B4" stroke-width="0.40" >Осадки (mm)</text>
<text transform="translate(2088 1141.5) rotate(-90) scale(0.9855 1)" font-size="36" fill="#707070" stroke="#707070" stroke-width="0.40" >Облачный покров</text>
<clipPath id="c3"><rect x="155.4" y="1294.8" width="1865.1" height="416.4000000000001"/></clipPath>
<polygon points="155.4,1458.4 196,1458.4 256.3,1491.1 316.5,1476.9 376.8,1437.8 437.1,1463.8 497.3,1467 557.6,1477.7 617.9,1438.7 678.1,1519 738.4,1449.7 798.6,1310.9 858.9,1436 919.2,1488.1 979.4,1520.3 1039.7,1469.5 1100,1519.5 1160.2,1413.8 1220.5,1375.4 1280.8,1467.8 1341,1467.8 1401.3,1363 1461.6,1403.4 1521.8,1423.2 1582.1,1451.4 1642.4,1502.5 1702.6,1475.4 1762.9,1467 1823.2,1467 1883.4,1478.2 1943.7,1494 1993.4,1471 2020.5,1471 2020.5,1620.4 1993.4,1620.4 1943.7,1678.5 1883.4,1657.7 1823.2,1675.8 1762.9,1685.7 1702.6,1693.3 1642.4,1628 1582.1,1616.4 1521.8,1657.7 1461.6,1613.2 1401.3,1675.1 1341,1607.8 1280.8,1678.8 1220.5,1658.5 1160.2,1682.5 1100,1693.1 1039.7,1652.8 979.4,1685.7 919.2,1628.2 858.9,1683.7 798.6,1671.4 738.4,1630.5 678.1,1678.5 617.9,1633.7 557.6,1686.2 497.3,1640.4 437.1,1685.7 376.8,1667.6 316.5,1678.8 256.3,1569.8 196,1663.2 155.4,1663.2" fill="#DFF0FA"/>
<g clip-path="url(#c3)" fill="#7050A0">
<circle cx="298.6" cy="1300.4" r="4.4"/>
<circle cx="296.6" cy="1317.2" r="4.4"/>
<circle cx="293.6" cy="1337.8" r="4.4"/>
<circle cx="291.2" cy="1366.7" r="4.4"/>
<circle cx="288.2" cy="1396.9" r="4.4"/>
<circle cx="286.2" cy="1425.2" r="4.4"/>
<circle cx="283.2" cy="1443.8" r="4.4"/>
<circle cx="343.9" cy="1331.8" r="4.4"/>
<circle cx="414.5" cy="1301.1" r="4.4"/>
<circle cx="411.3" cy="1323.9" r="4.4"/>
<circle cx="409.3" cy="1347.9" r="4.4"/>
<circle cx="406.3" cy="1379.9" r="4.4"/>
<circle cx="404.4" cy="1416.8" r="4.4"/>
<circle cx="472" cy="1296.1" r="4.4"/>
<circle cx="469" cy="1326.9" r="4.4"/>
<circle cx="467.5" cy="1361.8" r="4.4"/>
<circle cx="464" cy="1406.9" r="4.4"/>
<circle cx="532.1" cy="1304.8" r="4.4"/>
<circle cx="529.4" cy="1330.1" r="4.4"/>
<circle cx="526.9" cy="1371.7" r="4.4"/>
<circle cx="524.2" cy="1398.9" r="4.4"/>
<circle cx="559.1" cy="1296.1" r="4.4"/>
<circle cx="589.9" cy="1315" r="4.4"/>
<circle cx="587.4" cy="1368.7" r="4.4"/>
<circle cx="585.1" cy="1398.9" r="4.4"/>
<circle cx="652" cy="1309" r="4.4"/>
<circle cx="650.3" cy="1350.1" r="4.4"/>
<circle cx="647.3" cy="1384.1" r="4.4"/>
<circle cx="645.1" cy="1406.9" r="4.4"/>
<circle cx="622.3" cy="1398.9" r="4.4"/>
<circle cx="625.5" cy="1421.7" r="4.4"/>
<circle cx="627.3" cy="1434.8" r="4.4"/>
<circle cx="642.4" cy="1436.1" r="4.4"/>
<circle cx="639.9" cy="1446.5" r="4.4"/>
<circle cx="256.5" cy="1398.9" r="4.4"/>
<circle cx="258.2" cy="1407.6" r="4.4"/>
<circle cx="223.1" cy="1414.5" r="4.4"/>
<circle cx="221.3" cy="1437.8" r="4.4"/>
<circle cx="201.3" cy="1475" r="4.4"/>
<circle cx="565.1" cy="1443.8" r="4.4"/>
<circle cx="386" cy="1480.2" r="4.4"/>
<circle cx="384.3" cy="1502.9" r="4.4"/>
<circle cx="447.7" cy="1481.9" r="4.4"/>
<circle cx="444" cy="1502.9" r="4.4"/>
<circle cx="336.2" cy="1475.7" r="4.4"/>
<circle cx="332.8" cy="1486.8" r="4.4"/>
<circle cx="329.3" cy="1497" r="4.4"/>
<circle cx="326.1" cy="1516.8" r="4.4"/>
<circle cx="324.1" cy="1554.7" r="4.4"/>
<circle cx="512.3" cy="1529" r="4.4"/>
<circle cx="502.9" cy="1584.7" r="4.4"/>
<circle cx="439" cy="1609.7" r="4.4"/>
<circle cx="499" cy="1623.6" r="4.4"/>
<circle cx="561.9" cy="1606.2" r="4.4"/>
<circle cx="437.3" cy="1638.7" r="4.4"/>
<circle cx="316.4" cy="1657.7" r="4.4"/>
<circle cx="305.5" cy="1681.3" r="4.4"/>
<circle cx="303.1" cy="1691.7" r="4.4"/>
<circle cx="301.1" cy="1704.1" r="4.4"/>
<circle cx="346.4" cy="1705.3" r="4.4"/>
<circle cx="416.2" cy="1698.6" r="4.4"/>
<circle cx="474.4" cy="1685.5" r="4.4"/>
<circle cx="534.1" cy="1693.6" r="4.4"/>
<circle cx="592.6" cy="1693.6" r="4.4"/>
<circle cx="620.1" cy="1690.2" r="4.4"/>
<circle cx="655.2" cy="1685.5" r="4.4"/>
<circle cx="617.3" cy="1670.6" r="4.4"/>
<circle cx="677.5" cy="1611.9" r="4.4"/>
<circle cx="198.3" cy="1539.6" r="4.4"/>
<circle cx="159.9" cy="1537.1" r="4.4"/>
<circle cx="152.5" cy="1530.9" r="4.4"/>
<circle cx="163.6" cy="1581.7" r="4.4"/>
<circle cx="165.4" cy="1593.1" r="4.4"/>
<circle cx="685.4" cy="1533.4" r="4.4"/>
<circle cx="705.2" cy="1554.5" r="4.4"/>
<circle cx="749.7" cy="1554.5" r="4.4"/>
<circle cx="748.3" cy="1575.3" r="4.4"/>
<circle cx="765.4" cy="1578" r="4.4"/>
<circle cx="681.1" cy="1592.8" r="4.4"/>
<circle cx="679.9" cy="1611.9" r="4.4"/>
<circle cx="831" cy="1314" r="4.4"/>
<circle cx="828" cy="1398.9" r="4.4"/>
<circle cx="826" cy="1445.2" r="4.4"/>
<circle cx="818.1" cy="1478.7" r="4.4"/>
<circle cx="812.4" cy="1517.3" r="4.4"/>
<circle cx="810.4" cy="1537.1" r="4.4"/>
<circle cx="808.2" cy="1555" r="4.4"/>
<circle cx="805" cy="1568.6" r="4.4"/>
<circle cx="803.2" cy="1587.6" r="4.4"/>
<circle cx="800.3" cy="1606.2" r="4.4"/>
<circle cx="836.4" cy="1649.6" r="4.4"/>
<circle cx="897.9" cy="1296.1" r="4.4"/>
<circle cx="921.4" cy="1296.1" r="4.4"/>
<circle cx="896.1" cy="1314.2" r="4.4"/>
<circle cx="893.4" cy="1337.3" r="4.4"/>
<circle cx="891.2" cy="1361.8" r="4.4"/>
<circle cx="887.9" cy="1386" r="4.4"/>
<circle cx="886" cy="1408.8" r="4.4"/>
<circle cx="923.4" cy="1415.5" r="4.4"/>
<circle cx="956.5" cy="1356.3" r="4.4"/>
<circle cx="954.3" cy="1372.2" r="4.4"/>
<circle cx="951.1" cy="1394.7" r="4.4"/>
<circle cx="949.1" cy="1414.8" r="4.4"/>
<circle cx="946.1" cy="1433.6" r="4.4"/>
<circle cx="1009.3" cy="1311.7" r="4.4"/>
<circle cx="981.3" cy="1332.8" r="4.4"/>
<circle cx="984" cy="1413.8" r="4.4"/>
<circle cx="1006.3" cy="1421.7" r="4.4"/>
<circle cx="986.3" cy="1429.4" r="4.4"/>
<circle cx="915.9" cy="1665.7" r="4.4"/>
<circle cx="903.3" cy="1676.8" r="4.4"/>
<circle cx="918.4" cy="1686.7" r="4.4"/>
<circle cx="901.6" cy="1691.7" r="4.4"/>
<circle cx="1011.8" cy="1682.5" r="4.4"/>
<circle cx="1079.1" cy="1313" r="4.4"/>
<circle cx="1077.4" cy="1337" r="4.4"/>
<circle cx="1074.2" cy="1364.3" r="4.4"/>
<circle cx="1066.3" cy="1441" r="4.4"/>
<circle cx="1055.1" cy="1493" r="4.4"/>
<circle cx="1053.9" cy="1507.9" r="4.4"/>
<circle cx="1050.9" cy="1522.3" r="4.4"/>
<circle cx="1049.2" cy="1535.6" r="4.4"/>
<circle cx="1046.5" cy="1550.5" r="4.4"/>
<circle cx="1132.4" cy="1321.4" r="4.4"/>
<circle cx="1129.4" cy="1405.1" r="4.4"/>
<circle cx="1127.4" cy="1449" r="4.4"/>
<circle cx="1107.1" cy="1488.1" r="4.4"/>
<circle cx="1103.9" cy="1529" r="4.4"/>
<circle cx="1040.8" cy="1606.2" r="4.4"/>
<circle cx="1162.4" cy="1594.6" r="4.4"/>
<circle cx="1159.1" cy="1628" r="4.4"/>
<circle cx="1189.4" cy="1602.8" r="4.4"/>
<circle cx="1099.7" cy="1678.3" r="4.4"/>
<circle cx="1254.9" cy="1312.7" r="4.4"/>
<circle cx="1252.2" cy="1338.7" r="4.4"/>
<circle cx="1250.2" cy="1370.9" r="4.4"/>
<circle cx="1222.2" cy="1550" r="4.4"/>
<circle cx="1307.1" cy="1321.7" r="4.4"/>
<circle cx="1305.2" cy="1368.7" r="4.4"/>
<circle cx="1301.9" cy="1394.7" r="4.4"/>
<circle cx="1300.2" cy="1403.9" r="4.4"/>
<circle cx="1297" cy="1420.7" r="4.4"/>
<circle cx="1295.3" cy="1429.9" r="4.4"/>
<circle cx="1292" cy="1477.7" r="4.4"/>
<circle cx="1191.2" cy="1602.8" r="4.4"/>
<circle cx="1287.1" cy="1609.4" r="4.4"/>
<circle cx="1285.4" cy="1625" r="4.4"/>
<circle cx="1311.9" cy="1667.1" r="4.4"/>
<circle cx="1310.1" cy="1692.4" r="4.4"/>
<circle cx="1260.1" cy="1692.4" r="4.4"/>
<circle cx="1256.9" cy="1707.3" r="4.4"/>
<circle cx="1351" cy="1559.4" r="4.4"/>
<circle cx="1348.5" cy="1577.2" r="4.4"/>
<circle cx="1345.3" cy="1588.4" r="4.4"/>
<circle cx="1341.6" cy="1603.3" r="4.4"/>
<circle cx="1368.3" cy="1602.8" r="4.4"/>
<circle cx="1424" cy="1502.9" r="4.4"/>
<circle cx="1420.3" cy="1522.3" r="4.4"/>
<circle cx="1418.3" cy="1531.4" r="4.4"/>
<circle cx="1415.4" cy="1544.3" r="4.4"/>
<circle cx="1413.4" cy="1559.4" r="4.4"/>
<circle cx="1410.4" cy="1573" r="4.4"/>
<circle cx="1407.9" cy="1585.9" r="4.4"/>
<circle cx="1405.5" cy="1600" r="4.4"/>
<circle cx="1403.5" cy="1610.7" r="4.4"/>
<circle cx="1428.3" cy="1595.8" r="4.4"/>
<circle cx="1493.4" cy="1302.8" r="4.4"/>
<circle cx="1491.4" cy="1364.3" r="4.4"/>
<circle cx="1473.3" cy="1483.9" r="4.4"/>
<circle cx="1471.1" cy="1511.6" r="4.4"/>
<circle cx="1468.1" cy="1546.8" r="4.4"/>
<circle cx="1466.1" cy="1576" r="4.4"/>
<circle cx="1497.1" cy="1655.3" r="4.4"/>
<circle cx="1496.4" cy="1675.1" r="4.4"/>
<circle cx="1533" cy="1502.9" r="4.4"/>
<circle cx="1548.4" cy="1502.9" r="4.4"/>
<circle cx="1531" cy="1517.1" r="4.4"/>
<circle cx="1526.1" cy="1560.4" r="4.4"/>
<circle cx="1523.1" cy="1606.2" r="4.4"/>
<circle cx="1586.3" cy="1496" r="4.4"/>
<circle cx="1583" cy="1592.1" r="4.4"/>
<circle cx="1578.8" cy="1633.7" r="4.4"/>
<circle cx="1643.2" cy="1324.1" r="4.4"/>
<circle cx="1628.9" cy="1337.8" r="4.4"/>
<circle cx="1626.4" cy="1345.7" r="4.4"/>
<circle cx="1623.9" cy="1356.8" r="4.4"/>
<circle cx="1621.4" cy="1369.2" r="4.4"/>
<circle cx="1619" cy="1383.3" r="4.4"/>
<circle cx="1616.5" cy="1395.7" r="4.4"/>
<circle cx="1614" cy="1406.4" r="4.4"/>
<circle cx="1611" cy="1413" r="4.4"/>
<circle cx="1608.6" cy="1427.9" r="4.4"/>
<circle cx="1588.7" cy="1470.7" r="4.4"/>
<circle cx="1644.5" cy="1370.9" r="4.4"/>
<circle cx="1646.4" cy="1415.5" r="4.4"/>
<circle cx="1681.6" cy="1300.4" r="4.4"/>
<circle cx="1679.1" cy="1310.5" r="4.4"/>
<circle cx="1676.7" cy="1327.8" r="4.4"/>
<circle cx="1674.2" cy="1348.2" r="4.4"/>
<circle cx="1671.2" cy="1371.2" r="4.4"/>
<circle cx="1669.2" cy="1398.9" r="4.4"/>
<circle cx="1709.4" cy="1502.9" r="4.4"/>
<circle cx="1706.4" cy="1628" r="4.4"/>
<circle cx="1734.6" cy="1302.8" r="4.4"/>
<circle cx="1732.1" cy="1331.6" r="4.4"/>
<circle cx="1729.1" cy="1379.9" r="4.4"/>
<circle cx="1709.3" cy="1502.9" r="4.4"/>
<circle cx="1706.1" cy="1628" r="4.4"/>
<circle cx="1801.9" cy="1364.3" r="4.4"/>
<circle cx="1799.5" cy="1379.1" r="4.4"/>
<circle cx="1797.2" cy="1394" r="4.4"/>
<circle cx="1794.5" cy="1406.9" r="4.4"/>
<circle cx="1824.5" cy="1347.7" r="4.4"/>
<circle cx="1769.3" cy="1492.5" r="4.4"/>
<circle cx="1767.5" cy="1564.1" r="4.4"/>
<circle cx="1764.3" cy="1631.7" r="4.4"/>
<circle cx="1737.1" cy="1699.1" r="4.4"/>
<circle cx="1880.7" cy="1296.1" r="4.4"/>
<circle cx="1877.5" cy="1310.5" r="4.4"/>
<circle cx="1875.3" cy="1324.1" r="4.4"/>
<circle cx="1860.1" cy="1361.3" r="4.4"/>
<circle cx="1857.4" cy="1378.4" r="4.4"/>
<circle cx="1855.4" cy="1398.4" r="4.4"/>
<circle cx="1852.2" cy="1415.8" r="4.4"/>
<circle cx="1850.5" cy="1433.1" r="4.4"/>
<circle cx="1827.9" cy="1429.9" r="4.4"/>
<circle cx="1892.3" cy="1469.5" r="4.4"/>
<circle cx="1890.1" cy="1490.6" r="4.4"/>
<circle cx="1887.4" cy="1550" r="4.4"/>
<circle cx="1885.7" cy="1670.1" r="4.4"/>
<circle cx="1882.4" cy="1692.4" r="4.4"/>
<circle cx="1935.2" cy="1305.6" r="4.4"/>
<circle cx="1933.2" cy="1316.7" r="4.4"/>
<circle cx="1930.7" cy="1325.9" r="4.4"/>
<circle cx="1929" cy="1333.3" r="4.4"/>
<circle cx="1927.3" cy="1338.2" r="4.4"/>
<circle cx="1924.8" cy="1343.9" r="4.4"/>
<circle cx="1922.3" cy="1351.1" r="4.4"/>
<circle cx="1920.3" cy="1366.7" r="4.4"/>
<circle cx="1917.4" cy="1386.5" r="4.4"/>
<circle cx="1915.4" cy="1406.9" r="4.4"/>
<circle cx="1912.4" cy="1426.2" r="4.4"/>
<circle cx="1910.4" cy="1439.8" r="4.4"/>
<circle cx="1950" cy="1509.9" r="4.4"/>
<circle cx="1947.6" cy="1571.5" r="4.4"/>
<circle cx="1945.1" cy="1647.1" r="4.4"/>
<circle cx="1940.1" cy="1692.4" r="4.4"/>
<circle cx="1937.2" cy="1706" r="4.4"/>
<circle cx="1983.5" cy="1300.4" r="4.4"/>
<circle cx="1980.5" cy="1314.2" r="4.4"/>
<circle cx="1978" cy="1342.5" r="4.4"/>
<circle cx="1975.3" cy="1368" r="4.4"/>
<circle cx="1973.1" cy="1387" r="4.4"/>
<circle cx="1970.4" cy="1410.1" r="4.4"/>
<circle cx="2015.2" cy="1496" r="4.4"/>
<circle cx="2013.2" cy="1519" r="4.4"/>
<circle cx="2008.3" cy="1571.5" r="4.4"/>
</g>
<g clip-path="url(#c3)" fill="none" stroke="#7050A0" stroke-width="9.4" stroke-linecap="round" stroke-linejoin="round">
<polyline points="224.3,1405.1 230.5,1396.4 237.9,1381.6 246.6,1386.5 255.3,1388.5"/>
<polyline points="202,1448.5 209.4,1442.3 219.3,1447.2"/>
<polyline points="261.4,1447.2 267.6,1457.1 277.5,1462.1 282.5,1460.8"/>
<polyline points="516.5,1423.7 519,1428.6 522.7,1432.4"/>
<polyline points="566.1,1424.9 574.7,1433.6 583.4,1442.3"/>
<polyline points="389,1465.8 394,1457.1 402.6,1459.6"/>
<polyline points="500.4,1585.9 507.9,1577.2"/>
<polyline points="320.9,1636.7 318.4,1642.9"/>
<polyline points="434.8,1647.8 428.6,1663.9 423.7,1676.3"/>
<polyline points="361.8,1660.2 367.9,1652.8 374.1,1656.5 376.6,1663.9"/>
<polyline points="609.4,1651.5 615.6,1661.5"/>
<polyline points="663.9,1663.9 675.1,1659 680,1651.5"/>
<polyline points="168.6,1604.5 174.8,1611.9 187.1,1616.9 194.6,1623.1"/>
<polyline points="740.6,1604.5 745.5,1597.1"/>
<polyline points="767.8,1605.7 776.5,1615.6 788.9,1619.3 798.8,1625.5"/>
<polyline points="708.4,1629.3 715.8,1626.8 722,1631.7"/>
<polyline points="673.7,1661.5 677.4,1652.8"/>
<polyline points="823.6,1460.3 820.6,1469.5"/>
<polyline points="837.2,1633 845.8,1619.3 853.3,1621.8 861.9,1635.4"/>
<polyline points="926.3,1427.4 935,1443.5 942.4,1454.7"/>
<polyline points="979.6,1302.3 974.6,1314.7 966,1328.3 959.8,1343.2"/>
<polyline points="989.5,1438.6 996.9,1450.9 1004.3,1460.8"/>
<polyline points="905.3,1663.9 909,1656.5 914,1656.5"/>
<polyline points="1086.1,1296.1 1079.9,1299.9"/>
<polyline points="1071.2,1395.2 1068.7,1402.6"/>
<polyline points="1063.8,1463.8 1060.8,1473.2"/>
<polyline points="1119.5,1464.6 1113.3,1472 1110.8,1479.4"/>
<polyline points="1039,1636.2 1034.1,1647.8"/>
<polyline points="1156.7,1639.2 1151.7,1655.3 1144.3,1665.2 1136.8,1670.1"/>
<polyline points="1183.9,1506.7 1179,1519 1176.5,1529"/>
<polyline points="1191.3,1615.6 1195.1,1628 1200,1630.5"/>
<polyline points="1092.3,1698.6 1087.3,1704.8"/>
<polyline points="1223.4,1428.2 1234.6,1424.2 1243.2,1422.5"/>
<polyline points="1192.5,1616.9 1198.7,1628 1209.8,1621.8 1221,1616.9"/>
<polyline points="1277.9,1650.3 1271.7,1656.5 1269.3,1663.9"/>
<polyline points="1339.8,1628 1328.7,1639.2"/>
<polyline points="1369.6,1623.1 1380.7,1629.3 1400.5,1630.5"/>
<polyline points="1476.1,1464.6 1478.5,1455.9 1487.2,1450.4"/>
<polyline points="1461.2,1635.4 1452.5,1640.4 1445.1,1646.6"/>
<polyline points="1535.5,1493 1539.2,1485.6 1546.6,1483.9"/>
<polyline points="1507,1634.2 1512,1630.5 1521.9,1630.5"/>
<polyline points="1551.6,1623.1 1559,1621.8"/>
<polyline points="1639.5,1311 1634.6,1322.1 1630.8,1329.6"/>
<polyline points="1606.1,1454.7 1598.6,1458.4"/>
<polyline points="1649.4,1426.2 1655.6,1439.8 1660.6,1448.5 1666.8,1449"/>
<polyline points="1712.6,1463.3 1720,1455.9"/>
<polyline points="1695.2,1671.4 1699,1665.2 1702.7,1675.1"/>
<polyline points="1686.6,1698.6 1684.1,1706"/>
<polyline points="1713.5,1463.3 1719.7,1454.7 1728.4,1449.7"/>
<polyline points="1693.7,1670.1 1699.9,1663.9 1702.4,1675.1"/>
<polyline points="1821.3,1317.2 1817.5,1328.3 1811.4,1343.2 1803.9,1355.6"/>
<polyline points="1792.8,1418.7 1789.1,1424.9"/>
<polyline points="1775.4,1455.9 1782.9,1450.9 1789.1,1450.4"/>
<polyline points="1763.1,1654 1756.9,1668.9 1751.9,1678.8"/>
<polyline points="1873.3,1334.5 1868.3,1345.7 1862.1,1351.9"/>
<polyline points="1828.7,1442.3 1838.6,1450.9 1848.5,1458.4"/>
<polyline points="1894.3,1459.6 1898,1453.4 1909.2,1455.9"/>
<polyline points="1955,1463.3 1958.7,1453.4 1968.6,1450.4"/>
<polyline points="2003.3,1656.5 1998.3,1673.8 1990.9,1693.6 1983.5,1708.5"/>
</g>
<g clip-path="url(#c3)" fill="none" stroke-linejoin="bevel">
<polyline points="155.4,1458.4 196,1458.4 256.3,1491.1 316.5,1476.9 376.8,1437.8 437.1,1463.8 497.3,1467 557.6,1477.7 617.9,1438.7 678.1,1519 738.4,1449.7 798.6,1310.9 858.9,1436 919.2,1488.1 979.4,1520.3 1039.7,1469.5 1100,1519.5 1160.2,1413.8 1220.5,1375.4 1280.8,1467.8 1341,1467.8 1401.3,1363 1461.6,1403.4 1521.8,1423.2 1582.1,1451.4 1642.4,1502.5 1702.6,1475.4 1762.9,1467 1823.2,1467 1883.4,1478.2 1943.7,1494 1993.4,1471 2020.5,1471" stroke="#F8F8F8" stroke-width="15.5"/>
<polyline points="155.4,1663.2 196,1663.2 256.3,1569.8 316.5,1678.8 376.8,1667.6 437.1,1685.7 497.3,1640.4 557.6,1686.2 617.9,1633.7 678.1,1678.5 738.4,1630.5 798.6,1671.4 858.9,1683.7 919.2,1628.2 979.4,1685.7 1039.7,1652.8 1100,1693.1 1160.2,1682.5 1220.5,1658.5 1280.8,1678.8 1341,1607.8 1401.3,1675.1 1461.6,1613.2 1521.8,1657.7 1582.1,1616.4 1642.4,1628 1702.6,1693.3 1762.9,1685.7 1823.2,1675.8 1883.4,1657.7 1943.7,1678.5 1993.4,1620.4 2020.5,1620.4" stroke="#F8F8F8" stroke-width="15.5"/>
<polyline points="155.4,1525.7 196,1525.7 256.3,1528.3 316.5,1581 376.8,1558.7 437.1,1577.2 497.3,1568.6 557.6,1561.2 617.9,1540.1 678.1,1584 738.4,1545 798.6,1491.8 858.9,1546.3 919.2,1533.9 979.4,1569.8 1039.7,1561.9 1100,1582.2 1160.2,1551.2 1220.5,1506.7 1280.8,1574.8 1341,1545 1401.3,1502.9 1461.6,1529 1521.8,1541.3 1582.1,1522.8 1642.4,1551.2 1702.6,1574.8 1762.9,1551.2 1823.2,1545 1883.4,1533.9 1943.7,1559.5 1993.4,1544.4 2020.5,1544.4" stroke="#F8F8F8" stroke-width="17.6"/>
<polyline points="155.4,1458.4 196,1458.4 256.3,1491.1 316.5,1476.9 376.8,1437.8 437.1,1463.8 497.3,1467 557.6,1477.7 617.9,1438.7 678.1,1519 738.4,1449.7 798.6,1310.9 858.9,1436 919.2,1488.1 979.4,1520.3 1039.7,1469.5 1100,1519.5 1160.2,1413.8 1220.5,1375.4 1280.8,1467.8 1341,1467.8 1401.3,1363 1461.6,1403.4 1521.8,1423.2 1582.1,1451.4 1642.4,1502.5 1702.6,1475.4 1762.9,1467 1823.2,1467 1883.4,1478.2 1943.7,1494 1993.4,1471 2020.5,1471" stroke="#3D7070" stroke-width="7.3"/>
<polyline points="155.4,1663.2 196,1663.2 256.3,1569.8 316.5,1678.8 376.8,1667.6 437.1,1685.7 497.3,1640.4 557.6,1686.2 617.9,1633.7 678.1,1678.5 738.4,1630.5 798.6,1671.4 858.9,1683.7 919.2,1628.2 979.4,1685.7 1039.7,1652.8 1100,1693.1 1160.2,1682.5 1220.5,1658.5 1280.8,1678.8 1341,1607.8 1401.3,1675.1 1461.6,1613.2 1521.8,1657.7 1582.1,1616.4 1642.4,1628 1702.6,1693.3 1762.9,1685.7 1823.2,1675.8 1883.4,1657.7 1943.7,1678.5 1993.4,1620.4 2020.5,1620.4" stroke="#3D7070" stroke-width="7.3"/>
<polyline points="791.4,1327.6 798.6,1310.9 805.9,1325.9" stroke="#3D7070" stroke-width="7.3" stroke-linejoin="miter" stroke-miterlimit="6"/>
<polyline points="155.4,1525.7 196,1525.7 256.3,1528.3 316.5,1581 376.8,1558.7 437.1,1577.2 497.3,1568.6 557.6,1561.2 617.9,1540.1 678.1,1584 738.4,1545 798.6,1491.8 858.9,1546.3 919.2,1533.9 979.4,1569.8 1039.7,1561.9 1100,1582.2 1160.2,1551.2 1220.5,1506.7 1280.8,1574.8 1341,1545 1401.3,1502.9 1461.6,1529 1521.8,1541.3 1582.1,1522.8 1642.4,1551.2 1702.6,1574.8 1762.9,1551.2 1823.2,1545 1883.4,1533.9 1943.7,1559.5 1993.4,1544.4 2020.5,1544.4" stroke="#3D7070" stroke-width="9" stroke-dasharray="7.6 6.2" stroke-dashoffset="-2.5"/>
</g>
<line x1="155.4" y1="1696.4" x2="183.8" y2="1696.4" stroke="#000" stroke-width="2.2"/>
<line x1="155.4" y1="1682.6" x2="183.8" y2="1682.6" stroke="#000" stroke-width="2.2"/>
<line x1="155.4" y1="1668.8" x2="183.8" y2="1668.8" stroke="#000" stroke-width="2.2"/>
<line x1="155.4" y1="1654.9" x2="183.8" y2="1654.9" stroke="#000" stroke-width="2.2"/>
<line x1="155.4" y1="1627.3" x2="183.8" y2="1627.3" stroke="#000" stroke-width="2.2"/>
<line x1="155.4" y1="1613.5" x2="183.8" y2="1613.5" stroke="#000" stroke-width="2.2"/>
<line x1="155.4" y1="1599.7" x2="183.8" y2="1599.7" stroke="#000" stroke-width="2.2"/>
<line x1="155.4" y1="1585.9" x2="183.8" y2="1585.9" stroke="#000" stroke-width="2.2"/>
<line x1="155.4" y1="1558.3" x2="183.8" y2="1558.3" stroke="#000" stroke-width="2.2"/>
<line x1="155.4" y1="1544.4" x2="183.8" y2="1544.4" stroke="#000" stroke-width="2.2"/>
<line x1="155.4" y1="1530.6" x2="183.8" y2="1530.6" stroke="#000" stroke-width="2.2"/>
<line x1="155.4" y1="1516.8" x2="183.8" y2="1516.8" stroke="#000" stroke-width="2.2"/>
<line x1="155.4" y1="1489.2" x2="183.8" y2="1489.2" stroke="#000" stroke-width="2.2"/>
<line x1="155.4" y1="1475.4" x2="183.8" y2="1475.4" stroke="#000" stroke-width="2.2"/>
<line x1="155.4" y1="1461.6" x2="183.8" y2="1461.6" stroke="#000" stroke-width="2.2"/>
<line x1="155.4" y1="1447.8" x2="183.8" y2="1447.8" stroke="#000" stroke-width="2.2"/>
<line x1="155.4" y1="1420.1" x2="183.8" y2="1420.1" stroke="#000" stroke-width="2.2"/>
<line x1="155.4" y1="1406.3" x2="183.8" y2="1406.3" stroke="#000" stroke-width="2.2"/>
<line x1="155.4" y1="1392.5" x2="183.8" y2="1392.5" stroke="#000" stroke-width="2.2"/>
<line x1="155.4" y1="1378.7" x2="183.8" y2="1378.7" stroke="#000" stroke-width="2.2"/>
<line x1="155.4" y1="1351.1" x2="183.8" y2="1351.1" stroke="#000" stroke-width="2.2"/>
<line x1="155.4" y1="1337.2" x2="183.8" y2="1337.2" stroke="#000" stroke-width="2.2"/>
<line x1="155.4" y1="1323.4" x2="183.8" y2="1323.4" stroke="#000" stroke-width="2.2"/>
<line x1="155.4" y1="1309.6" x2="183.8" y2="1309.6" stroke="#000" stroke-width="2.2"/>
<line x1="192.60000000000002" y1="1710.2" x2="2020.5" y2="1710.2" stroke="#000" stroke-width="2.2" stroke-dasharray="7.8 6.26" stroke-dashoffset="11.4"/>
<line x1="192.60000000000002" y1="1641.1" x2="2020.5" y2="1641.1" stroke="#000" stroke-width="2.2" stroke-dasharray="7.8 6.26" stroke-dashoffset="11.4"/>
<line x1="192.60000000000002" y1="1572.1" x2="2020.5" y2="1572.1" stroke="#000" stroke-width="2.2" stroke-dasharray="7.8 6.26" stroke-dashoffset="11.4"/>
<line x1="192.60000000000002" y1="1503" x2="2020.5" y2="1503" stroke="#000" stroke-width="2.2" stroke-dasharray="7.8 6.26" stroke-dashoffset="11.4"/>
<line x1="192.60000000000002" y1="1433.9" x2="2020.5" y2="1433.9" stroke="#000" stroke-width="2.2" stroke-dasharray="7.8 6.26" stroke-dashoffset="11.4"/>
<line x1="192.60000000000002" y1="1364.9" x2="2020.5" y2="1364.9" stroke="#000" stroke-width="2.2" stroke-dasharray="7.8 6.26" stroke-dashoffset="11.4"/>
<line x1="192.60000000000002" y1="1295.8" x2="2020.5" y2="1295.8" stroke="#000" stroke-width="2.2" stroke-dasharray="7.8 6.26" stroke-dashoffset="11.4"/>
<line x1="155.4" y1="1710.2" x2="192.4" y2="1710.2" stroke="#3D7070" stroke-width="2.3"/>
<line x1="155.4" y1="1696.4" x2="174.0" y2="1696.4" stroke="#3D7070" stroke-width="2.3"/>
<line x1="155.4" y1="1682.6" x2="174.0" y2="1682.6" stroke="#3D7070" stroke-width="2.3"/>
<line x1="155.4" y1="1668.8" x2="174.0" y2="1668.8" stroke="#3D7070" stroke-width="2.3"/>
<line x1="155.4" y1="1654.9" x2="174.0" y2="1654.9" stroke="#3D7070" stroke-width="2.3"/>
<line x1="155.4" y1="1641.1" x2="192.4" y2="1641.1" stroke="#3D7070" stroke-width="2.3"/>
<line x1="155.4" y1="1627.3" x2="174.0" y2="1627.3" stroke="#3D7070" stroke-width="2.3"/>
<line x1="155.4" y1="1613.5" x2="174.0" y2="1613.5" stroke="#3D7070" stroke-width="2.3"/>
<line x1="155.4" y1="1599.7" x2="174.0" y2="1599.7" stroke="#3D7070" stroke-width="2.3"/>
<line x1="155.4" y1="1585.9" x2="174.0" y2="1585.9" stroke="#3D7070" stroke-width="2.3"/>
<line x1="155.4" y1="1572.1" x2="192.4" y2="1572.1" stroke="#3D7070" stroke-width="2.3"/>
<line x1="155.4" y1="1558.3" x2="174.0" y2="1558.3" stroke="#3D7070" stroke-width="2.3"/>
<line x1="155.4" y1="1544.4" x2="174.0" y2="1544.4" stroke="#3D7070" stroke-width="2.3"/>
<line x1="155.4" y1="1530.6" x2="174.0" y2="1530.6" stroke="#3D7070" stroke-width="2.3"/>
<line x1="155.4" y1="1516.8" x2="174.0" y2="1516.8" stroke="#3D7070" stroke-width="2.3"/>
<line x1="155.4" y1="1503" x2="192.4" y2="1503" stroke="#3D7070" stroke-width="2.3"/>
<line x1="155.4" y1="1489.2" x2="174.0" y2="1489.2" stroke="#3D7070" stroke-width="2.3"/>
<line x1="155.4" y1="1475.4" x2="174.0" y2="1475.4" stroke="#3D7070" stroke-width="2.3"/>
<line x1="155.4" y1="1461.6" x2="174.0" y2="1461.6" stroke="#3D7070" stroke-width="2.3"/>
<line x1="155.4" y1="1447.8" x2="174.0" y2="1447.8" stroke="#3D7070" stroke-width="2.3"/>
<line x1="155.4" y1="1433.9" x2="192.4" y2="1433.9" stroke="#3D7070" stroke-width="2.3"/>
<line x1="155.4" y1="1420.1" x2="174.0" y2="1420.1" stroke="#3D7070" stroke-width="2.3"/>
<line x1="155.4" y1="1406.3" x2="174.0" y2="1406.3" stroke="#3D7070" stroke-width="2.3"/>
<line x1="155.4" y1="1392.5" x2="174.0" y2="1392.5" stroke="#3D7070" stroke-width="2.3"/>
<line x1="155.4" y1="1378.7" x2="174.0" y2="1378.7" stroke="#3D7070" stroke-width="2.3"/>
<line x1="155.4" y1="1364.9" x2="192.4" y2="1364.9" stroke="#3D7070" stroke-width="2.3"/>
<line x1="155.4" y1="1351.1" x2="174.0" y2="1351.1" stroke="#3D7070" stroke-width="2.3"/>
<line x1="155.4" y1="1337.2" x2="174.0" y2="1337.2" stroke="#3D7070" stroke-width="2.3"/>
<line x1="155.4" y1="1323.4" x2="174.0" y2="1323.4" stroke="#3D7070" stroke-width="2.3"/>
<line x1="155.4" y1="1309.6" x2="174.0" y2="1309.6" stroke="#3D7070" stroke-width="2.3"/>
<line x1="155.4" y1="1295.8" x2="192.4" y2="1295.8" stroke="#3D7070" stroke-width="2.3"/>
<line x1="155.4" y1="1295.8" x2="2021.5" y2="1295.8" stroke="#000" stroke-width="2.1"/>
<line x1="203.1" y1="1295.8" x2="203.1" y2="1299.8" stroke="#000" stroke-width="3.1"/>
<line x1="263.4" y1="1295.8" x2="263.4" y2="1303.6" stroke="#000" stroke-width="3.1"/>
<line x1="323.7" y1="1295.8" x2="323.7" y2="1299.8" stroke="#000" stroke-width="3.1"/>
<line x1="383.9" y1="1295.8" x2="383.9" y2="1303.6" stroke="#000" stroke-width="3.1"/>
<line x1="444.2" y1="1295.8" x2="444.2" y2="1299.8" stroke="#000" stroke-width="3.1"/>
<line x1="504.5" y1="1295.8" x2="504.5" y2="1303.6" stroke="#000" stroke-width="3.1"/>
<line x1="564.7" y1="1295.8" x2="564.7" y2="1299.8" stroke="#000" stroke-width="3.1"/>
<line x1="625" y1="1295.8" x2="625" y2="1303.6" stroke="#000" stroke-width="3.1"/>
<line x1="685.3" y1="1295.8" x2="685.3" y2="1299.8" stroke="#000" stroke-width="3.1"/>
<line x1="745.5" y1="1295.8" x2="745.5" y2="1303.6" stroke="#000" stroke-width="3.1"/>
<line x1="805.8" y1="1295.8" x2="805.8" y2="1299.8" stroke="#000" stroke-width="3.1"/>
<line x1="866" y1="1295.8" x2="866" y2="1303.6" stroke="#000" stroke-width="3.1"/>
<line x1="926.3" y1="1295.8" x2="926.3" y2="1299.8" stroke="#000" stroke-width="3.1"/>
<line x1="986.6" y1="1295.8" x2="986.6" y2="1303.6" stroke="#000" stroke-width="3.1"/>
<line x1="1046.8" y1="1295.8" x2="1046.8" y2="1299.8" stroke="#000" stroke-width="3.1"/>
<line x1="1107.1" y1="1295.8" x2="1107.1" y2="1303.6" stroke="#000" stroke-width="3.1"/>
<line x1="1167.4" y1="1295.8" x2="1167.4" y2="1299.8" stroke="#000" stroke-width="3.1"/>
<line x1="1227.6" y1="1295.8" x2="1227.6" y2="1303.6" stroke="#000" stroke-width="3.1"/>
<line x1="1287.9" y1="1295.8" x2="1287.9" y2="1299.8" stroke="#000" stroke-width="3.1"/>
<line x1="1348.2" y1="1295.8" x2="1348.2" y2="1303.6" stroke="#000" stroke-width="3.1"/>
<line x1="1408.4" y1="1295.8" x2="1408.4" y2="1299.8" stroke="#000" stroke-width="3.1"/>
<line x1="1468.7" y1="1295.8" x2="1468.7" y2="1303.6" stroke="#000" stroke-width="3.1"/>
<line x1="1529" y1="1295.8" x2="1529" y2="1299.8" stroke="#000" stroke-width="3.1"/>
<line x1="1589.2" y1="1295.8" x2="1589.2" y2="1303.6" stroke="#000" stroke-width="3.1"/>
<line x1="1649.5" y1="1295.8" x2="1649.5" y2="1299.8" stroke="#000" stroke-width="3.1"/>
<line x1="1709.8" y1="1295.8" x2="1709.8" y2="1303.6" stroke="#000" stroke-width="3.1"/>
<line x1="1770" y1="1295.8" x2="1770" y2="1299.8" stroke="#000" stroke-width="3.1"/>
<line x1="1830.3" y1="1295.8" x2="1830.3" y2="1303.6" stroke="#000" stroke-width="3.1"/>
<line x1="1890.6" y1="1295.8" x2="1890.6" y2="1299.8" stroke="#000" stroke-width="3.1"/>
<line x1="1950.8" y1="1295.8" x2="1950.8" y2="1303.6" stroke="#000" stroke-width="3.1"/>
<line x1="2011.1" y1="1295.8" x2="2011.1" y2="1299.8" stroke="#000" stroke-width="3.1"/>
<line x1="155.6" y1="1294.3999999999999" x2="155.6" y2="1711.3" stroke="#3D7070" stroke-width="2.9"/>
<line x1="155.4" y1="1295.8" x2="193.9" y2="1295.8" stroke="#3D7070" stroke-width="2.3"/>
<line x1="2020.5" y1="1294.8" x2="2020.5" y2="1711.5" stroke="#7050A0" stroke-width="2.8"/>
<line x1="1983" y1="1398.6" x2="2020.5" y2="1398.6" stroke="#7050A0" stroke-width="1.6"/>
<text transform="translate(263.4 1279.7) scale(1.0415 1)" font-size="31.5" fill="#1C1C1C" stroke="#1C1C1C" stroke-width="0.35" text-anchor="middle" >02</text>
<text transform="translate(383.9 1279.7) scale(1.0415 1)" font-size="31.5" fill="#1C1C1C" stroke="#1C1C1C" stroke-width="0.35" text-anchor="middle" >04</text>
<text transform="translate(504.5 1279.7) scale(1.0415 1)" font-size="31.5" fill="#1C1C1C" stroke="#1C1C1C" stroke-width="0.35" text-anchor="middle" >06</text>
<text transform="translate(625 1279.7) scale(1.0415 1)" font-size="31.5" fill="#1C1C1C" stroke="#1C1C1C" stroke-width="0.35" text-anchor="middle" >08</text>
<text transform="translate(745.5 1279.7) scale(1.0415 1)" font-size="31.5" fill="#1C1C1C" stroke="#1C1C1C" stroke-width="0.35" text-anchor="middle" >10</text>
<text transform="translate(866 1279.7) scale(1.0415 1)" font-size="31.5" fill="#1C1C1C" stroke="#1C1C1C" stroke-width="0.35" text-anchor="middle" >12</text>
<text transform="translate(986.6 1279.7) scale(1.0415 1)" font-size="31.5" fill="#1C1C1C" stroke="#1C1C1C" stroke-width="0.35" text-anchor="middle" >14</text>
<text transform="translate(1107.1 1279.7) scale(1.0415 1)" font-size="31.5" fill="#1C1C1C" stroke="#1C1C1C" stroke-width="0.35" text-anchor="middle" >16</text>
<text transform="translate(1227.6 1279.7) scale(1.0415 1)" font-size="31.5" fill="#1C1C1C" stroke="#1C1C1C" stroke-width="0.35" text-anchor="middle" >18</text>
<text transform="translate(1348.2 1279.7) scale(1.0415 1)" font-size="31.5" fill="#1C1C1C" stroke="#1C1C1C" stroke-width="0.35" text-anchor="middle" >20</text>
<text transform="translate(1468.7 1279.7) scale(1.0415 1)" font-size="31.5" fill="#1C1C1C" stroke="#1C1C1C" stroke-width="0.35" text-anchor="middle" >22</text>
<text transform="translate(1589.2 1279.7) scale(1.0415 1)" font-size="31.5" fill="#1C1C1C" stroke="#1C1C1C" stroke-width="0.35" text-anchor="middle" >24</text>
<text transform="translate(1709.8 1279.7) scale(1.0415 1)" font-size="31.5" fill="#1C1C1C" stroke="#1C1C1C" stroke-width="0.35" text-anchor="middle" >26</text>
<text transform="translate(1830.3 1279.7) scale(1.0415 1)" font-size="31.5" fill="#1C1C1C" stroke="#1C1C1C" stroke-width="0.35" text-anchor="middle" >28</text>
<text transform="translate(1950.8 1279.7) scale(1.0415 1)" font-size="31.5" fill="#1C1C1C" stroke="#1C1C1C" stroke-width="0.35" text-anchor="middle" >30</text>
<text transform="translate(142.5 1709.3) scale(1.0553 1)" font-size="31.5" fill="#3D7070" stroke="#3D7070" stroke-width="0.35" text-anchor="end" >0</text>
<text transform="translate(142.5 1654.9) scale(1.0553 1)" font-size="31.5" fill="#3D7070" stroke="#3D7070" stroke-width="0.35" text-anchor="end" >5</text>
<text transform="translate(142.5 1585.9) scale(1.0557 1)" font-size="31.5" fill="#3D7070" stroke="#3D7070" stroke-width="0.35" text-anchor="end" >10</text>
<text transform="translate(142.5 1516.8) scale(1.0557 1)" font-size="31.5" fill="#3D7070" stroke="#3D7070" stroke-width="0.35" text-anchor="end" >15</text>
<text transform="translate(142.5 1447.7) scale(1.0557 1)" font-size="31.5" fill="#3D7070" stroke="#3D7070" stroke-width="0.35" text-anchor="end" >20</text>
<text transform="translate(142.5 1378.7) scale(1.0557 1)" font-size="31.5" fill="#3D7070" stroke="#3D7070" stroke-width="0.35" text-anchor="end" >25</text>
<text transform="translate(142.5 1319.8) scale(1.0557 1)" font-size="31.5" fill="#3D7070" stroke="#3D7070" stroke-width="0.35" text-anchor="end" >30</text>
<text transform="translate(2032.5 1320.3) scale(1.0958 1)" font-size="31.5" fill="#7050A0" stroke="#7050A0" stroke-width="0.35" >360</text>
<text transform="translate(2032.5 1413.2) scale(1.0958 1)" font-size="31.5" fill="#7050A0" stroke="#7050A0" stroke-width="0.35" >270</text>
<text transform="translate(2032.5 1516) scale(1.0958 1)" font-size="31.5" fill="#7050A0" stroke="#7050A0" stroke-width="0.35" >180</text>
<text transform="translate(2032.5 1619.2) scale(1.0957 1)" font-size="31.5" fill="#7050A0" stroke="#7050A0" stroke-width="0.35" >90</text>
<text transform="translate(2032.5 1709.3) scale(1.0952 1)" font-size="31.5" fill="#7050A0" stroke="#7050A0" stroke-width="0.35" >0</text>
<text transform="translate(69.6 1689) rotate(-90) scale(0.9986 1)" font-size="36" fill="#3D7070" stroke="#3D7070" stroke-width="0.40" >Скорость ветра (km/h)</text>
<text transform="translate(2133 1675) rotate(-90) scale(0.9788 1)" font-size="36" fill="#7050A0" stroke="#7050A0" stroke-width="0.40" >Направление ветра</text>
<circle cx="2108.4" cy="1334.4" r="4.6" fill="none" stroke="#7050A0" stroke-width="2"/>
<polygon points="2183.4,1297.5 2177,1274.5 2183.4,1276.2 2183.4,1245.9 2189.4,1245.9 2189.4,1276.2 2195.8,1274.5 2189.4,1297.5" fill="#7050A0"/>
<polygon points="2219.2,1402.5 2196.2,1408.9 2197.9,1402.5 2154.8,1402.5 2154.8,1396.5 2197.9,1396.5 2196.2,1390.1 2219.2,1396.5" fill="#7050A0"/>
<polygon points="2189.9,1503 2196.3,1526 2189.9,1524.3 2189.9,1553.8 2183.9,1553.8 2183.9,1524.3 2177.5,1526 2183.9,1503" fill="#7050A0"/>
<polygon points="2153.9,1603.6 2176.9,1597.2 2175.2,1603.6 2223.9,1603.6 2223.9,1609.6 2175.2,1609.6 2176.9,1616 2153.9,1609.6" fill="#7050A0"/>
<polygon points="2183.9,1710.5 2177.5,1687.5 2183.9,1689.2 2183.9,1658.9 2189.9,1658.9 2189.9,1689.2 2196.3,1687.5 2189.9,1710.5" fill="#7050A0"/>
</svg>
</body></html>
